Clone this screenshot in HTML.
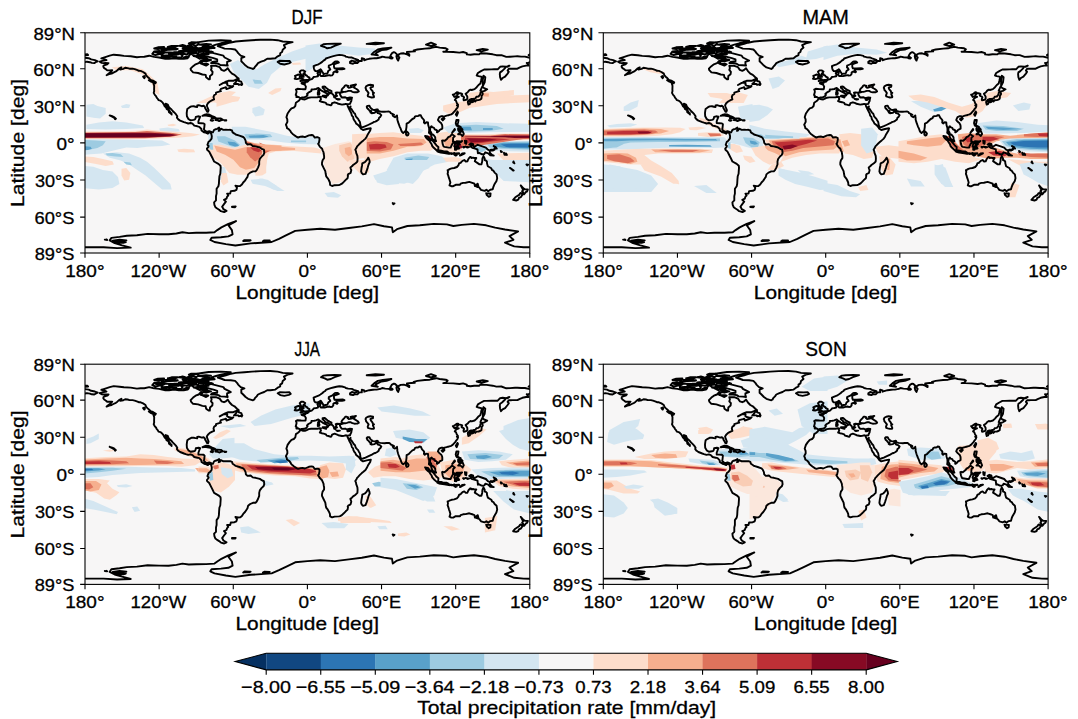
<!DOCTYPE html><html><head><meta charset="utf-8"><style>html,body{margin:0;padding:0;background:#fff;}svg{display:block}</style></head><body>
<svg width="1078" height="719" viewBox="0 0 1078 719" style='font-family:"Liberation Sans",sans-serif'>
<style>text{stroke:#000;stroke-width:0.3px;fill:#000}</style>
<defs>
<clipPath id="clip"><rect x="0" y="0" width="444.8" height="220.2"/></clipPath>
<path id="coast" d="M14.8,28.9 L17.3,28.1 L21.5,27.3 L19.2,26.2 L16.3,25.6 L21.0,24.1 L24.7,22.9 L28.7,21.9 L34.6,22.5 L38.9,23.1 L45.7,23.4 L51.9,24.4 L55.6,24.1 L59.3,24.0 L64.2,22.9 L69.2,24.1 L74.1,24.7 L80.3,26.0 L84.0,26.0 L89.0,25.4 L93.9,26.0 L98.8,26.0 L102.6,25.4 L105.0,21.6 L106.3,21.0 L108.7,22.9 L112.4,24.7 L114.9,26.0 L117.4,24.1 L121.1,24.1 L121.7,27.2 L119.8,28.2 L116.1,27.8 L113.7,30.3 L110.6,31.5 L108.1,33.4 L105.6,35.9 L106.0,37.4 L108.1,39.6 L113.1,40.2 L117.4,41.7 L120.7,42.1 L121.1,44.5 L123.6,46.4 L124.8,46.4 L125.0,43.3 L127.3,41.4 L127.6,39.0 L126.0,37.1 L126.6,35.3 L126.0,33.0 L131.0,33.0 L134.7,34.4 L136.5,37.1 L139.0,38.0 L140.9,37.1 L142.7,35.4 L144.6,38.3 L147.0,40.8 L149.5,42.1 L152.0,44.5 L153.6,45.8 L152.0,46.4 L148.3,48.0 L143.3,48.0 L140.2,49.2 L134.7,52.2 L138.4,50.1 L142.3,50.0 L142.1,52.0 L143.3,52.8 L147.0,53.7 L148.3,53.2 L147.0,54.4 L141.5,56.3 L140.9,54.4 L139.6,54.9 L135.9,56.0 L135.2,57.4 L135.9,58.4 L134.1,58.9 L131.0,59.9 L131.0,61.2 L129.1,62.5 L128.5,64.3 L129.1,66.6 L127.3,67.4 L124.8,68.7 L122.9,70.5 L121.8,72.4 L122.3,74.2 L123.6,77.3 L123.1,78.9 L122.1,78.9 L121.3,77.3 L120.2,75.5 L119.8,74.0 L118.6,73.0 L116.8,73.4 L113.7,72.4 L112.2,72.7 L112.2,74.2 L110.6,73.9 L108.7,73.5 L106.3,73.6 L104.4,74.6 L102.3,76.1 L101.9,78.6 L101.7,80.4 L101.9,83.5 L103.4,86.2 L105.6,87.6 L108.7,87.1 L110.0,86.6 L110.6,85.4 L110.8,84.1 L113.7,83.5 L115.2,83.9 L114.3,86.0 L113.4,88.5 L113.4,90.3 L116.1,90.4 L118.6,90.6 L119.6,91.5 L119.2,95.3 L118.9,96.5 L119.8,97.7 L121.7,99.0 L124.2,98.3 L126.8,99.3 L127.9,99.6 L129.1,97.1 L130.4,96.5 L132.2,96.1 L134.1,94.8 L134.4,96.5 L133.7,98.0 L134.7,97.7 L135.9,95.9 L138.4,97.1 L140.9,97.0 L143.3,97.1 L145.2,97.0 L147.0,97.7 L147.6,99.6 L149.5,100.8 L150.7,101.7 L154.4,102.8 L158.2,104.2 L159.4,105.4 L160.6,107.9 L160.9,110.1 L162.5,111.7 L165.6,111.3 L167.7,113.2 L170.5,113.6 L174.8,114.7 L177.3,116.3 L178.9,116.9 L179.3,120.0 L178.5,122.1 L176.7,123.7 L174.8,126.2 L174.2,128.7 L174.2,131.7 L173.0,134.8 L171.7,137.3 L170.5,138.6 L168.0,138.6 L165.2,139.8 L163.1,141.6 L162.5,144.1 L161.2,146.0 L160.0,147.8 L158.2,149.7 L156.9,151.8 L155.1,153.2 L153.2,153.3 L150.4,152.8 L152.0,155.0 L151.4,157.1 L149.5,158.0 L145.8,158.3 L145.2,160.8 L142.1,160.8 L143.3,162.7 L142.1,163.9 L141.5,165.8 L139.0,167.0 L140.9,168.9 L139.0,171.3 L137.1,173.9 L137.8,175.0 L138.4,176.3 L141.5,178.1 L139.2,179.3 L135.9,178.4 L134.1,176.9 L132.2,175.7 L130.4,174.4 L129.4,172.0 L129.1,169.5 L131.0,167.6 L131.0,163.3 L131.6,160.8 L131.6,155.9 L133.4,153.4 L133.9,150.9 L134.1,147.2 L134.4,143.5 L135.3,141.0 L135.4,139.3 L135.7,134.8 L135.5,133.0 L133.4,131.1 L129.1,128.7 L127.3,124.9 L125.4,121.2 L124.2,118.8 L122.1,116.9 L121.9,115.8 L123.2,114.3 L123.6,113.2 L122.4,112.0 L122.9,110.7 L123.6,108.9 L125.0,107.9 L126.6,105.8 L126.8,103.3 L126.3,101.2 L125.5,99.8 L123.9,99.7 L122.9,100.9 L121.3,100.1 L119.2,99.6 L116.5,97.7 L116.4,96.2 L114.3,94.0 L112.4,93.5 L109.3,92.8 L107.5,90.9 L105.6,90.2 L103.2,90.7 L100.7,89.9 L99.0,89.3 L95.1,87.8 L93.3,86.6 L91.9,84.9 L92.3,83.5 L90.9,81.4 L89.0,79.4 L87.7,78.2 L86.5,76.7 L85.3,75.6 L83.6,73.9 L82.8,71.8 L80.6,70.9 L81.3,73.0 L82.2,74.2 L83.4,76.1 L84.0,77.3 L85.6,80.0 L86.5,80.4 L86.6,81.8 L86.1,81.0 L84.0,79.5 L83.6,77.3 L81.5,76.1 L81.2,74.8 L79.7,73.4 L78.5,71.1 L77.7,69.9 L76.1,68.3 L75.4,67.9 L73.5,67.4 L72.9,66.2 L71.7,64.8 L71.0,63.3 L69.8,62.1 L68.7,60.1 L69.2,58.1 L69.1,56.9 L69.2,52.9 L68.3,50.2 L70.4,50.5 L70.9,49.5 L69.2,48.5 L68.0,47.8 L65.5,47.0 L64.2,45.5 L62.4,43.9 L61.2,42.7 L60.5,40.8 L58.1,39.2 L55.6,38.1 L53.7,38.0 L52.5,37.4 L49.7,36.4 L47.6,35.9 L44.5,35.9 L42.6,35.3 L40.2,35.0 L38.3,36.1 L35.2,36.7 L36.4,34.6 L34.0,35.9 L32.1,37.7 L30.9,38.6 L28.4,39.8 L26.6,40.8 L24.1,41.4 L21.6,42.4 L23.5,40.9 L25.9,39.0 L27.2,37.5 L24.7,37.6 L22.2,37.6 L21.0,36.5 L19.2,35.3 L18.3,34.0 L18.5,32.8 L19.8,32.2 L22.2,31.5 L23.5,30.3 L20.4,30.2 L18.5,30.3 L16.7,30.1 L14.8,28.9 M168.0,36.1 L163.1,34.6 L160.6,32.8 L158.2,30.3 L156.3,28.5 L156.3,25.4 L159.4,24.1 L155.7,22.9 L154.4,21.6 L153.2,20.4 L152.0,18.6 L150.1,16.7 L145.8,16.1 L139.6,15.8 L137.1,14.8 L132.8,13.4 L135.9,12.4 L140.9,11.1 L144.6,9.9 L150.7,8.7 L159.4,8.0 L166.8,7.4 L175.4,6.9 L185.3,6.8 L192.7,7.4 L197.7,8.7 L207.6,9.3 L202.6,10.5 L198.9,12.4 L200.2,14.8 L197.7,16.9 L197.1,19.2 L195.2,20.4 L195.2,22.3 L192.7,23.5 L190.3,25.4 L185.3,26.0 L182.2,26.0 L179.2,27.8 L176.1,28.9 L173.0,30.3 L171.7,32.2 L169.9,34.0 L169.3,35.3 L168.0,36.1 M149.0,51.2 L150.7,49.5 L152.0,47.6 L153.7,46.3 L153.8,48.2 L156.3,48.9 L156.9,50.7 L157.3,51.3 L156.7,52.3 L155.7,51.6 L153.8,52.1 L153.2,51.2 L149.0,51.2 M117.5,83.0 L119.8,81.9 L121.1,81.5 L123.6,81.6 L126.6,83.1 L129.1,84.1 L130.7,85.1 L129.1,85.5 L126.6,85.5 L127.0,84.5 L125.4,83.5 L122.3,83.1 L120.5,82.6 L117.5,83.0 M130.4,87.3 L132.2,85.6 L135.9,85.7 L137.9,87.1 L135.9,87.6 L134.2,88.3 L132.8,87.6 L130.4,87.3 M125.7,87.5 L128.1,87.6 L127.5,88.0 L126.0,87.7 L125.7,87.5 M139.4,87.3 L141.3,87.5 L141.1,87.8 L139.5,87.8 L139.4,87.3 M24.7,82.6 L27.2,83.4 L29.0,84.2 L30.9,85.9 L30.1,86.5 L29.4,85.2 L27.2,83.9 L24.7,82.6 M69.9,50.3 L68.0,49.6 L66.1,48.9 L63.8,47.3 L65.5,47.3 L67.6,47.9 L69.9,50.3 M59.3,43.3 L59.9,44.5 L59.3,45.4 L58.1,43.9 L59.3,43.3 M215.2,65.8 L214.4,67.4 L213.0,68.5 L210.9,69.9 L210.3,73.2 L208.8,74.8 L206.5,75.6 L204.5,77.9 L202.6,80.7 L202.0,82.6 L201.4,84.4 L202.3,86.6 L202.4,89.1 L200.9,91.9 L201.8,94.0 L202.0,95.3 L203.9,96.5 L205.5,98.3 L206.1,99.6 L207.6,101.1 L209.1,102.3 L211.9,104.2 L213.1,104.7 L215.6,103.9 L217.5,103.7 L219.9,104.3 L222.2,103.3 L223.9,102.6 L226.6,102.2 L228.0,102.4 L229.8,104.8 L231.7,104.5 L232.9,104.5 L234.4,105.2 L234.5,107.0 L234.1,108.9 L233.9,110.1 L233.1,111.0 L234.8,113.8 L236.0,115.0 L237.1,116.0 L237.6,117.5 L238.5,119.4 L238.7,121.0 L239.1,123.1 L239.1,125.3 L237.6,127.4 L237.0,129.9 L237.0,131.7 L238.5,134.8 L240.3,138.4 L240.7,141.0 L241.2,143.5 L242.8,145.5 L243.8,147.2 L244.9,149.7 L245.1,152.2 L247.1,153.2 L249.6,152.4 L254.0,152.2 L255.1,151.9 L256.9,150.9 L258.8,149.1 L260.7,147.1 L262.6,145.4 L263.0,142.9 L262.7,142.3 L263.2,141.4 L265.6,140.2 L266.3,137.3 L265.6,135.5 L265.4,134.6 L266.9,133.5 L268.1,132.2 L270.6,130.5 L272.4,128.7 L272.6,125.6 L272.4,123.1 L271.2,120.0 L271.0,118.5 L270.3,116.9 L271.5,115.0 L272.1,113.6 L273.1,112.6 L274.9,110.7 L276.8,108.9 L278.4,107.6 L280.5,105.8 L281.7,103.9 L282.9,101.4 L285.2,97.7 L285.8,95.5 L284.2,95.7 L281.7,96.2 L278.0,97.2 L276.1,96.0 L275.8,95.7 L275.2,94.6 L273.7,92.8 L271.8,91.2 L271.2,90.8 L270.1,88.5 L269.4,87.8 L268.4,85.9 L268.1,84.1 L266.9,82.9 L266.3,80.5 L265.6,79.2 L264.2,76.5 L262.7,73.2 L262.6,73.0 L262.3,71.4 L260.7,71.1 L259.3,71.5 L257.0,71.8 L253.3,71.0 L252.1,70.4 L249.6,69.5 L247.1,70.4 L246.5,72.0 L245.9,72.6 L243.4,71.8 L241.6,71.4 L240.9,70.1 L238.7,69.4 L236.6,69.0 L234.8,68.3 L236.0,66.4 L235.4,64.9 L236.0,64.2 L234.6,64.0 L232.3,64.5 L228.6,64.6 L226.1,64.6 L223.6,64.9 L221.7,65.9 L219.9,66.7 L218.1,66.6 L216.2,65.9 L215.2,65.8 M283.3,124.9 L284.4,127.4 L284.7,129.3 L283.6,131.7 L282.7,134.8 L281.7,137.9 L280.5,141.0 L278.0,141.6 L276.8,140.4 L276.1,138.6 L276.5,135.5 L277.1,132.4 L277.3,130.5 L279.9,129.3 L281.7,127.4 L283.3,124.9 M262.3,71.4 L265.0,71.1 L265.6,69.5 L266.3,68.2 L266.6,66.2 L267.0,64.8 L265.0,64.6 L261.9,65.3 L260.3,64.5 L257.0,64.7 L256.1,63.7 L255.4,62.5 L254.9,61.2 L255.3,60.1 L258.2,59.3 L257.0,59.0 L254.5,59.8 L252.1,59.6 L250.7,59.9 L251.4,61.2 L250.6,62.7 L252.1,63.1 L250.8,63.7 L250.2,64.9 L249.2,64.5 L249.0,63.5 L248.3,61.9 L247.1,60.9 L246.4,60.0 L246.5,58.4 L244.6,57.4 L242.7,56.3 L240.9,54.9 L240.3,54.1 L239.5,53.7 L237.6,53.9 L237.6,55.0 L239.1,56.2 L240.3,57.9 L242.2,58.3 L244.0,59.6 L245.3,60.4 L243.4,61.5 L242.9,62.6 L241.8,63.1 L242.4,61.2 L241.7,60.5 L239.9,59.6 L237.5,58.4 L235.4,56.9 L233.4,55.2 L231.0,56.2 L229.1,56.5 L226.5,56.7 L226.4,58.1 L225.1,58.9 L223.4,59.8 L222.0,61.2 L222.6,62.1 L221.5,63.6 L219.3,64.6 L216.8,64.7 L215.7,65.4 L214.6,64.9 L213.1,64.1 L211.4,64.3 L211.5,62.7 L210.7,62.2 L211.5,59.4 L211.5,58.1 L210.9,56.9 L212.5,56.0 L216.2,56.3 L218.7,56.4 L220.5,56.4 L220.9,53.8 L219.7,51.7 L216.8,50.8 L216.5,50.2 L218.7,49.7 L220.5,49.9 L220.4,48.6 L222.5,48.9 L224.4,47.1 L226.7,46.4 L228.0,45.2 L228.6,44.2 L231.0,43.8 L233.0,43.4 L233.0,41.4 L232.4,40.2 L233.5,39.6 L235.5,38.7 L235.4,40.2 L234.8,42.1 L236.0,43.3 L237.2,43.1 L239.7,43.3 L242.2,42.7 L244.6,42.3 L245.5,42.8 L247.1,42.6 L248.3,41.2 L248.3,39.8 L249.0,39.0 L250.2,38.7 L252.1,39.6 L252.7,39.0 L251.4,37.7 L251.4,36.9 L252.9,36.6 L257.0,36.5 L259.5,36.0 L257.6,35.3 L253.3,35.6 L249.6,35.6 L249.0,34.0 L249.0,31.5 L252.1,30.3 L253.9,29.7 L252.7,28.7 L250.8,28.7 L249.8,28.9 L248.7,29.9 L247.5,31.2 L245.3,32.2 L243.8,32.9 L243.7,34.6 L244.6,35.3 L245.3,36.7 L243.2,38.3 L242.8,39.6 L242.2,40.6 L240.3,40.8 L238.5,41.4 L238.1,40.2 L237.1,38.7 L236.2,37.1 L235.5,36.5 L234.8,37.1 L232.3,38.3 L230.4,38.2 L229.4,37.1 L228.9,35.4 L228.6,33.4 L231.0,32.4 L233.5,31.5 L235.4,30.3 L237.2,29.1 L238.5,27.8 L240.2,26.8 L240.9,25.7 L242.8,25.0 L245.8,24.0 L248.3,23.3 L251.4,22.6 L254.3,22.1 L257.0,22.3 L260.1,23.1 L260.7,23.8 L263.2,24.4 L266.9,24.7 L268.7,25.6 L273.1,27.0 L271.8,27.8 L269.4,28.5 L266.9,27.8 L265.0,29.1 L265.0,30.3 L268.1,30.9 L269.4,30.2 L272.4,30.2 L274.3,28.2 L276.8,28.2 L276.8,25.4 L279.2,26.2 L279.2,27.5 L281.7,26.6 L284.2,26.0 L287.9,25.6 L289.7,25.4 L291.6,25.4 L294.1,24.9 L295.9,24.5 L297.2,23.8 L300.2,24.4 L303.9,24.7 L305.2,25.5 L307.0,25.7 L307.7,25.1 L306.4,24.1 L305.2,23.5 L305.8,22.3 L307.0,20.4 L308.9,19.4 L310.1,19.8 L312.0,21.6 L311.4,23.5 L312.0,26.0 L313.2,27.8 L313.8,26.0 L314.4,24.7 L313.2,23.5 L313.8,21.6 L315.7,20.7 L318.8,20.5 L321.9,21.5 L324.3,22.9 L324.3,21.6 L321.9,20.4 L321.9,19.2 L326.2,18.8 L329.9,18.6 L328.7,17.6 L332.4,16.7 L339.8,15.8 L344.7,15.5 L347.2,14.8 L351.3,14.0 L354.6,14.8 L360.8,15.5 L362.6,16.5 L360.8,18.6 L358.3,18.9 L362.0,18.9 L368.2,19.2 L374.4,19.8 L378.1,19.2 L381.8,20.4 L381.8,21.6 L385.5,22.0 L389.2,21.5 L394.1,21.6 L395.4,20.4 L401.6,20.7 L407.7,21.5 L411.4,22.4 L416.4,22.3 L421.3,24.1 L425.0,23.9 L430.0,23.6 L432.4,23.5 L436.2,23.8 L439.9,23.8 L444.8,24.9 M0.0,24.9 L3.7,25.4 L6.2,26.6 L9.9,27.3 L12.7,28.5 L11.1,29.2 L9.3,30.3 L6.8,30.1 L4.9,29.4 L1.9,28.9 L0.0,29.4 M444.8,29.4 L442.9,30.3 L441.7,30.1 L442.9,31.5 L443.6,32.8 L441.1,32.8 L437.4,33.6 L434.9,34.6 L432.4,35.9 L427.5,35.9 L425.6,36.0 L423.8,36.0 L422.6,37.7 L423.8,39.0 L422.6,40.8 L420.1,43.9 L417.6,45.2 L416.0,47.0 L415.1,44.5 L414.8,41.4 L415.1,39.6 L417.0,38.3 L420.1,35.3 L420.1,34.0 L422.6,34.0 L424.4,32.8 L421.3,34.0 L417.6,33.6 L415.1,34.0 L412.7,36.5 L409.0,36.5 L406.5,36.6 L401.6,36.7 L399.1,36.7 L396.0,38.3 L392.9,40.2 L391.7,42.7 L393.5,43.3 L396.0,43.9 L397.2,44.5 L396.6,45.4 L396.0,48.2 L395.4,50.7 L393.5,52.2 L391.7,54.4 L389.6,56.3 L386.7,57.2 L385.5,56.8 L383.9,57.8 L382.7,59.4 L380.6,60.9 L382.3,63.6 L382.4,65.6 L381.8,66.7 L379.9,67.3 L378.7,67.5 L378.5,66.2 L379.1,64.6 L378.3,63.6 L377.1,63.3 L376.5,62.8 L377.2,61.2 L376.0,60.7 L373.8,60.2 L372.5,62.0 L371.9,60.9 L373.1,59.6 L371.9,59.5 L370.0,60.9 L368.8,61.6 L367.8,61.9 L368.8,63.1 L369.4,64.1 L371.3,63.3 L373.8,64.1 L371.9,64.9 L371.0,65.6 L369.8,67.2 L371.0,68.0 L371.9,70.5 L373.0,71.8 L371.9,72.6 L373.1,73.1 L372.5,74.8 L371.4,76.1 L370.2,77.9 L368.8,79.4 L367.6,80.7 L366.3,81.6 L364.4,82.1 L363.5,82.5 L362.6,82.6 L360.8,83.1 L359.5,83.5 L358.7,84.7 L358.3,85.0 L357.9,83.5 L356.5,83.4 L354.2,84.4 L353.4,86.0 L352.9,87.2 L354.0,88.5 L355.3,89.7 L356.1,90.3 L357.1,92.2 L357.3,93.4 L357.3,95.9 L355.8,96.6 L354.6,97.2 L354.0,98.3 L352.4,99.5 L351.9,99.5 L352.1,97.7 L351.4,97.2 L349.7,96.5 L349.0,95.0 L347.2,94.4 L346.6,93.4 L346.0,93.8 L345.3,95.3 L345.0,97.7 L346.2,99.6 L346.6,101.4 L347.8,101.7 L349.0,102.7 L350.2,104.5 L350.3,106.6 L351.1,108.4 L350.7,108.5 L348.7,107.4 L347.2,105.8 L346.4,103.4 L346.1,102.1 L345.6,101.4 L343.9,100.0 L344.2,97.7 L344.1,95.3 L343.2,92.2 L343.0,89.7 L341.3,89.4 L339.8,90.6 L338.9,89.7 L339.2,87.8 L338.5,86.6 L337.3,85.4 L336.7,84.5 L335.8,82.5 L334.2,82.3 L333.6,83.1 L332.4,83.3 L331.1,83.3 L329.9,83.9 L329.3,85.4 L327.4,86.2 L325.3,88.2 L323.7,89.9 L321.6,90.9 L321.5,94.0 L321.0,97.4 L320.0,98.7 L318.2,100.1 L316.9,99.0 L316.3,97.7 L315.7,95.9 L314.8,94.0 L314.1,92.2 L313.6,90.9 L313.0,89.1 L312.3,86.6 L312.3,84.7 L312.1,84.0 L312.0,82.6 L311.1,83.5 L310.0,84.4 L308.3,83.4 L307.7,82.4 L309.1,82.0 L307.3,81.0 L305.8,80.4 L305.2,79.4 L303.9,78.7 L301.5,78.8 L299.4,79.0 L297.8,78.9 L295.3,78.7 L293.2,78.2 L292.8,76.7 L291.8,76.6 L289.7,77.2 L287.9,76.9 L286.0,75.6 L285.2,74.5 L284.4,73.0 L282.3,73.1 L281.7,73.9 L282.3,75.5 L283.6,76.7 L284.4,77.7 L285.2,78.6 L286.2,78.1 L286.2,79.7 L285.4,79.7 L286.6,80.4 L289.6,79.9 L290.7,78.9 L292.0,77.7 L292.1,79.3 L292.8,80.4 L294.8,80.9 L296.3,82.3 L295.3,84.1 L294.1,84.9 L293.7,86.6 L292.2,87.8 L290.4,88.8 L289.1,89.1 L286.9,90.4 L283.1,92.2 L280.5,93.4 L278.0,94.3 L276.0,94.5 L275.5,92.8 L275.2,90.9 L274.9,89.1 L273.7,87.2 L273.1,86.0 L271.8,84.7 L270.8,83.5 L270.0,81.0 L268.7,79.8 L267.5,77.9 L266.3,76.1 L265.2,75.3 L265.6,73.6 L265.2,74.2 L264.9,75.2 L264.7,75.7 L263.8,74.8 L262.7,73.2 M258.2,59.1 L257.0,58.6 L256.5,57.5 L257.0,56.4 L257.9,55.3 L259.1,54.2 L259.7,53.2 L260.3,52.6 L261.3,52.5 L263.2,53.2 L262.6,53.9 L263.8,54.9 L265.0,54.7 L266.3,54.3 L267.5,54.1 L266.0,53.8 L265.6,52.8 L267.5,52.3 L269.4,52.0 L271.0,51.7 L269.6,52.9 L269.4,53.8 L268.5,54.2 L269.1,54.8 L270.6,55.7 L271.5,56.2 L273.1,57.4 L273.8,58.6 L272.4,59.4 L271.5,59.4 L269.4,59.5 L267.3,59.0 L265.8,58.1 L263.5,58.1 L261.9,58.6 L260.1,59.1 L258.2,59.1 M280.5,55.0 L281.1,53.6 L282.9,52.5 L285.4,52.0 L286.6,52.2 L288.1,52.5 L287.9,54.1 L285.8,54.4 L285.4,55.0 L286.0,56.5 L287.6,58.4 L287.8,59.6 L289.0,60.1 L287.9,61.2 L289.0,63.7 L288.9,64.5 L286.6,64.7 L284.5,64.1 L282.9,63.6 L282.7,62.5 L283.2,61.2 L283.6,60.2 L282.6,58.9 L282.3,58.4 L281.1,57.2 L281.0,56.3 L280.5,55.0 M215.4,48.2 L218.7,47.5 L224.1,46.8 L224.5,44.9 L222.6,43.9 L221.8,42.7 L220.9,42.6 L219.9,41.1 L218.4,40.8 L219.3,40.2 L220.2,38.8 L218.3,37.6 L216.2,37.6 L214.7,39.0 L215.5,40.8 L216.2,42.3 L218.4,42.2 L218.7,44.0 L216.7,44.2 L217.2,45.5 L215.9,46.1 L218.4,46.5 L215.4,48.2 M215.0,45.5 L214.7,44.2 L215.5,42.7 L213.4,41.7 L211.9,42.3 L210.0,43.1 L210.7,44.5 L209.7,46.0 L211.9,46.3 L215.0,45.5 M195.2,30.9 L192.7,29.1 L194.6,28.0 L200.2,28.2 L204.5,28.1 L205.7,29.7 L203.9,30.6 L199.3,31.7 L195.2,30.9 M236.0,13.0 L238.5,11.4 L242.2,11.1 L249.6,10.8 L255.8,10.9 L249.6,13.0 L245.9,14.8 L242.2,15.5 L239.7,14.2 L236.0,13.0 M286.6,21.6 L289.1,19.2 L292.8,16.7 L297.8,15.7 L306.4,14.8 L301.5,16.7 L296.5,17.3 L291.6,19.8 L290.4,21.0 L292.8,22.6 L286.6,21.6 M341.0,11.8 L346.0,9.9 L350.9,11.8 L346.0,13.2 L341.0,11.8 M391.7,17.3 L397.8,16.1 L402.8,16.9 L396.6,18.6 L391.7,17.3 M281.7,11.1 L290.4,9.9 L299.0,10.5 L290.4,11.4 L281.7,11.1 M0.0,21.6 L2.5,21.5 L3.1,22.3 L0.0,22.5 M444.8,22.5 L443.6,22.3 L444.8,21.6 M234.0,56.9 L234.3,58.1 L233.8,58.9 L233.0,58.3 L234.0,56.9 M234.1,59.3 L234.5,60.6 L234.1,61.7 L232.8,61.9 L232.8,59.8 L234.1,59.3 M237.7,63.0 L241.7,62.7 L241.1,64.7 L237.7,63.6 L237.7,63.0 M251.4,66.2 L254.9,66.4 L252.7,66.9 L251.4,66.2 M262.3,66.8 L265.2,65.9 L264.3,66.9 L262.8,67.2 L262.3,66.8 M397.2,53.9 L399.1,55.3 L402.2,56.5 L399.5,58.1 L396.6,58.8 L395.4,57.9 L396.0,56.5 L397.2,53.9 M397.2,59.0 L397.8,61.2 L396.6,63.1 L396.6,64.3 L396.4,65.9 L395.1,66.8 L393.5,67.3 L391.4,67.4 L390.2,68.7 L389.2,67.3 L386.1,68.0 L384.3,67.7 L384.3,67.0 L386.1,66.2 L388.0,66.1 L390.4,65.6 L391.4,64.0 L393.5,63.7 L395.1,61.9 L395.4,60.0 L397.2,59.0 M383.0,68.3 L385.2,68.7 L384.9,71.1 L383.4,71.8 L382.8,69.5 L383.0,68.3 M386.1,68.2 L388.7,67.8 L388.2,69.0 L386.7,69.5 L386.1,68.2 M397.8,53.2 L399.7,49.5 L400.3,44.5 L398.5,42.9 L397.8,47.0 L397.8,53.2 M372.5,78.8 L373.0,79.8 L371.7,83.0 L370.8,81.6 L372.5,78.8 M358.9,85.2 L359.5,85.9 L357.8,87.6 L356.6,86.3 L358.9,85.2 M371.4,87.2 L373.5,87.2 L373.1,89.7 L372.5,91.5 L373.1,92.8 L375.6,94.0 L375.0,94.6 L373.8,93.4 L371.9,93.0 L371.3,92.3 L370.7,90.3 L371.4,87.2 M375.0,99.6 L377.5,98.0 L378.8,101.1 L377.5,103.2 L375.6,101.4 L373.1,101.4 L375.0,99.6 M321.1,98.1 L322.9,99.6 L323.6,100.8 L323.1,102.3 L322.0,102.8 L321.2,102.1 L321.0,101.4 L321.1,98.1 M340.1,103.2 L342.9,103.7 L344.3,105.5 L346.3,107.3 L347.8,108.0 L350.5,111.3 L351.5,112.6 L353.4,114.1 L353.2,117.3 L351.5,117.4 L348.8,115.0 L347.2,113.2 L346.6,111.3 L345.3,109.5 L344.5,108.0 L342.9,106.8 L341.0,104.8 L340.1,103.2 M352.4,118.5 L353.4,117.4 L356.2,117.8 L358.9,118.6 L361.8,118.6 L363.7,119.7 L363.7,120.9 L359.5,120.2 L355.8,119.7 L354.0,119.3 L352.4,118.5 M357.1,107.9 L357.8,107.6 L359.5,108.1 L362.0,106.1 L363.3,104.4 L365.1,103.5 L367.0,101.4 L369.8,103.4 L368.2,104.8 L367.9,108.9 L369.4,109.0 L367.6,110.7 L366.3,113.2 L365.7,114.8 L363.9,114.8 L359.5,114.1 L358.6,113.7 L357.7,111.3 L357.1,107.9 M369.9,116.9 L370.0,114.4 L369.2,113.4 L370.4,110.1 L371.5,108.5 L376.2,108.6 L377.1,108.2 L375.6,109.6 L372.3,109.5 L370.9,110.1 L372.3,111.3 L374.7,111.2 L373.8,112.1 L372.4,112.5 L374.2,115.7 L372.5,116.0 L371.8,113.4 L371.0,113.8 L371.2,117.0 L369.9,116.9 M384.3,111.7 L386.1,110.6 L388.0,111.1 L388.6,113.2 L389.2,114.2 L392.7,112.0 L396.6,113.3 L400.9,114.8 L402.8,116.9 L404.6,117.6 L405.0,120.0 L407.1,122.1 L408.7,122.8 L405.3,122.6 L403.2,120.5 L400.3,119.5 L399.3,121.2 L398.1,121.5 L396.6,121.4 L394.1,120.1 L392.9,120.5 L392.5,116.5 L389.2,115.5 L387.3,115.0 L385.5,113.7 L387.1,112.9 L385.2,112.1 L384.3,111.7 M405.9,116.9 L408.4,116.9 L410.2,115.4 L409.6,116.9 L407.7,117.8 L406.5,117.8 L405.9,116.9 M408.7,113.3 L410.8,114.4 L411.7,115.8 L410.2,114.8 L408.7,113.3 M425.0,135.1 L428.7,137.7 L428.1,137.8 L425.0,135.1 M441.5,131.7 L443.1,131.9 L442.3,132.6 L441.5,131.7 M428.5,128.7 L429.4,130.5 L428.2,129.6 L428.5,128.7 M362.6,137.3 L363.4,137.1 L365.1,136.1 L366.6,135.6 L369.2,135.2 L371.9,134.2 L373.4,132.5 L374.2,130.4 L375.6,130.1 L376.2,129.3 L377.5,128.0 L379.3,127.2 L380.8,128.7 L382.4,128.5 L383.3,126.4 L384.0,125.4 L385.2,124.1 L386.2,124.5 L386.4,125.2 L388.0,124.8 L389.2,125.2 L391.3,125.2 L390.4,126.6 L389.8,128.4 L392.3,130.1 L394.5,131.6 L396.4,131.6 L397.2,128.7 L397.4,125.7 L398.5,123.3 L399.7,125.6 L399.7,127.4 L400.9,127.7 L401.9,128.7 L402.0,130.5 L402.8,133.4 L406.3,135.5 L407.1,137.3 L408.4,137.9 L409.6,139.8 L411.6,141.6 L412.2,145.4 L411.4,148.4 L410.2,150.3 L409.2,152.0 L408.4,154.0 L407.7,156.5 L405.3,156.9 L403.2,158.5 L401.4,157.0 L399.7,158.1 L397.8,157.6 L396.0,157.1 L394.8,155.4 L393.5,154.1 L393.2,152.8 L392.7,150.9 L392.3,152.2 L392.7,154.3 L391.1,153.6 L391.7,152.8 L392.3,151.2 L390.4,152.8 L389.9,153.3 L389.4,150.9 L388.0,150.3 L384.3,149.1 L380.6,149.9 L378.1,150.1 L375.6,150.9 L375.0,152.0 L370.7,152.0 L368.2,153.4 L366.3,153.4 L364.5,152.5 L365.4,149.7 L364.5,146.6 L364.0,145.4 L363.3,142.9 L362.6,141.0 L363.0,139.2 L362.6,137.3 M401.2,160.4 L405.6,160.7 L405.3,163.3 L403.8,164.0 L401.8,162.3 L401.2,160.4 M435.8,152.7 L438.4,155.6 L439.9,156.6 L442.9,156.7 L442.1,158.7 L441.0,159.1 L439.0,161.6 L438.1,161.2 L438.1,159.5 L437.1,158.6 L438.1,157.1 L435.8,152.7 M435.8,160.2 L437.6,161.7 L435.9,164.3 L433.9,165.1 L433.4,166.8 L431.2,167.7 L428.1,167.0 L430.3,164.5 L434.1,162.1 L435.0,160.6 L435.8,160.2 M147.0,173.8 L150.7,173.7 L150.1,174.4 L147.0,174.3 L147.0,173.8 M307.7,170.3 L309.5,170.7 L308.3,171.5 L307.7,170.3 M116.1,30.9 L121.7,30.9 L123.3,31.5 L121.1,32.8 L118.0,31.5 L115.5,30.3 L117.4,28.5 L116.1,30.9 M101.3,17.3 L98.8,16.7 L97.6,15.5 L100.1,15.5 L101.3,17.3 M111.2,20.0 L105.0,20.4 L105.0,18.6 L111.2,18.6 L111.2,20.0 M97.6,21.0 L102.6,21.6 L103.8,19.2 L101.3,18.6 L97.6,19.4 L97.6,21.0 M79.1,17.7 L84.0,16.7 L91.4,16.7 L92.7,16.1 L86.5,15.5 L79.1,15.7 L76.6,16.7 L79.1,17.7 M67.3,21.0 L69.2,18.6 L74.1,18.1 L79.1,19.2 L76.6,20.8 L70.4,22.3 L67.3,21.0 M76.6,21.6 L80.3,19.4 L89.0,19.8 L93.9,20.0 L97.6,22.9 L96.4,24.7 L91.4,24.7 L86.5,25.4 L82.8,25.4 L77.8,24.7 L76.6,23.5 L76.6,21.6 M111.2,13.0 L107.5,11.8 L103.8,10.5 L106.3,9.5 L112.4,9.6 L113.7,11.1 L111.2,13.0 M123.6,17.9 L113.7,17.9 L108.7,17.6 L108.7,16.1 L116.1,15.5 L123.6,16.1 L123.6,17.9 M129.7,15.1 L123.6,15.7 L113.7,15.5 L111.2,14.8 L107.5,14.2 L105.0,12.4 L108.7,10.5 L113.7,9.3 L123.6,7.8 L135.9,7.4 L145.8,8.0 L142.1,9.3 L135.9,10.5 L131.0,11.8 L127.3,13.0 L128.5,14.2 L129.7,15.1 M123.6,19.1 L128.5,20.4 L133.4,21.6 L138.4,22.9 L139.6,24.7 L144.6,27.2 L145.8,27.8 L142.1,29.1 L142.1,30.9 L142.7,32.8 L139.6,32.4 L135.3,32.2 L133.4,30.9 L129.7,30.3 L126.0,30.3 L127.3,29.1 L132.2,28.5 L132.2,26.6 L128.5,25.4 L123.6,24.1 L119.8,23.5 L116.1,22.9 L112.4,21.6 L113.7,19.2 L117.4,18.9 L123.6,19.1 M373.1,95.5 L374.4,97.1 L373.8,98.3 L373.1,97.1 L373.1,95.5 M375.6,94.6 L377.5,96.5 L376.8,97.7 L376.0,96.5 L375.6,94.6 M367.2,99.8 L370.0,97.1 L369.7,96.2 L367.2,99.8 M374.7,96.5 L375.6,97.7 L375.0,98.3 L374.7,96.5 M363.9,120.1 L365.4,120.5 L364.7,121.0 L363.9,120.1 M365.7,120.5 L366.6,120.4 L366.2,121.1 L365.7,120.5 M366.7,121.1 L369.4,120.2 L369.3,121.0 L366.7,121.1 M370.4,120.7 L374.1,120.4 L374.2,120.9 L370.7,121.1 L370.4,120.7 M375.0,122.8 L377.2,120.7 L379.7,120.5 L376.2,122.3 L375.0,122.8 M369.4,121.9 L371.7,122.3 L370.7,122.8 L369.4,121.9 M379.9,107.9 L380.6,109.5 L381.5,108.2 L381.2,111.1 L380.2,110.5 L379.9,107.9 M380.6,113.8 L384.0,114.4 L382.4,114.8 L380.6,113.8 M378.1,114.1 L379.6,114.2 L378.7,114.8 L378.1,114.1 M415.8,118.1 L417.0,119.1 L416.1,119.3 L415.8,118.1 M418.9,120.0 L421.1,122.0 L419.5,121.9 L418.9,120.0 M421.1,120.6 L421.9,122.2 L421.3,121.9 L421.1,120.6 M0.0,214.4 L18.5,214.4 L32.1,215.3 L45.7,214.8 L37.1,212.5 L29.7,210.3 L24.7,207.6 L26.4,205.1 L34.6,204.1 L41.8,202.9 L51.9,202.4 L62.6,201.1 L74.1,201.4 L83.5,201.5 L91.4,200.7 L97.4,199.4 L103.8,200.3 L111.2,200.0 L121.1,199.9 L129.5,199.4 L132.3,197.3 L136.4,194.6 L143.4,191.1 L151.0,188.3 L143.4,192.5 L146.9,197.3 L147.6,201.5 L143.4,203.6 L135.9,204.4 L126.6,205.0 L125.3,207.1 L129.5,209.2 L140.9,211.3 L150.4,212.7 L165.7,210.6 L186.6,209.2 L194.0,206.0 L200.4,202.9 L210.2,198.1 L222.4,196.9 L235.2,196.0 L250.0,196.9 L263.9,195.2 L276.8,193.6 L289.0,191.3 L299.0,193.4 L307.0,194.6 L307.8,199.4 L312.0,196.4 L322.4,193.2 L334.8,192.4 L348.8,191.1 L361.9,191.6 L368.3,193.2 L376.8,192.1 L389.0,191.1 L401.2,192.5 L410.2,194.8 L420.0,196.7 L433.1,198.6 L424.5,203.3 L428.4,207.0 L420.0,209.9 L429.2,213.6 L438.6,214.4 L444.8,214.5 M158.2,208.2 L164.3,208.1 L165.6,207.5 L159.4,207.3 L158.2,208.2 M177.9,208.4 L184.1,208.3 L184.7,207.7 L179.2,207.6 L177.9,208.4 M27.8,207.8 L35.8,208.2 L41.4,207.6 L34.6,206.8 L27.8,207.8 M29.7,209.7 L38.3,210.1 L40.8,209.3 L33.4,209.1 L29.7,209.7 M19.8,206.8 L22.2,207.2 L21.6,206.6 M69.2,15.7 L72.9,14.5 L79.1,14.2 L77.8,15.5 L72.9,16.2 L69.2,15.7 M82.8,14.1 L86.5,13.1 L92.7,13.1 L90.2,14.1 L82.8,14.1 M93.9,13.1 L97.6,12.2 L100.1,12.9 L97.6,13.6 L93.9,13.1 M101.3,13.6 L103.8,12.5 L105.6,13.1 L103.2,14.1 L101.3,13.6 M102.6,17.4 L105.0,16.5 L107.5,16.9 L105.6,17.8 L102.6,17.4 M98.8,24.9 L101.3,23.6 L103.8,24.1 L102.6,25.4 L98.8,24.9 M121.1,19.7 L126.0,18.7 L127.9,19.4 L124.8,20.0 L121.1,19.7 M70.4,19.5 L75.4,19.1 L77.8,19.5 L72.9,20.0 L70.4,19.5 M84.0,21.0 L91.4,20.7 L93.9,21.5 L86.5,21.8 L84.0,21.0 M81.5,16.3 L89.0,16.0 L91.4,16.5 L84.0,16.9 L81.5,16.3 M111.2,16.6 L118.6,16.2 L121.1,16.8 L113.7,17.2 L111.2,16.6 M93.9,18.3 L98.8,17.7 L101.3,18.2 L96.4,18.7 L93.9,18.3 M113.7,11.8 L121.1,11.1 L126.0,11.6 L118.6,12.2 L113.7,11.8 M76.6,22.9 L86.5,22.5 L91.4,23.1 L84.0,23.6 L76.6,22.9 M108.7,23.3 L113.7,22.8 L116.1,23.4 L111.2,23.8 L108.7,23.3 M116.1,25.6 L121.1,25.2 L122.3,25.9 L118.6,26.2 L116.1,25.6 M102.6,15.5 L108.7,14.8 L112.4,15.3 L106.3,16.0 L102.6,15.5 M103.8,20.4 L108.7,19.8 L111.2,20.4 L106.3,21.0 L103.8,20.4 M113.7,21.6 L118.6,21.0 L123.6,21.6 L117.4,22.3 L113.7,21.6 M117.4,14.2 L123.6,13.6 L127.3,14.2 L121.1,14.6 L117.4,14.2 M98.8,14.8 L102.6,14.4 L105.0,14.8 L101.3,15.3 L98.8,14.8 M89.0,19.5 L95.1,19.2 L97.6,19.7 L91.4,20.0 L89.0,19.5 M118.6,27.8 L123.6,26.6 L126.0,27.2 L121.1,28.5 L118.6,27.8" fill="none" stroke="#000" stroke-width="1.9" stroke-linejoin="round" stroke-linecap="round"/>
</defs>
<g transform="translate(85.0,32.8)">
<g clip-path="url(#clip)">
<rect x="0" y="0" width="444.8" height="220.2" fill="#f7f6f6"/>
<path d="M1.4,71.9 L8.3,71.2 L12.4,73.3 L20.7,75.3 L20.7,80.9 L15.1,85.7 L8.3,85.0 L1.4,83.6Z" fill="#d4e6f1"/>
<path d="M35.8,73.3 L41.3,71.2 L45.4,71.9 L44.1,75.3 L37.2,75.3Z" fill="#d4e6f1"/>
<path d="M1.4,91.9 L13.8,89.8 L27.5,88.4 L41.3,89.8 L57.8,92.6 L59.2,95.3 L41.3,96.3 L20.7,96.7 L1.4,96.3Z" fill="#d4e6f1"/>
<path d="M74.3,95.7 L82.6,94.6 L93.6,96.3 L95.0,98.8 L82.6,99.4 L75.0,98.5Z" fill="#d4e6f1"/>
<path d="M82.6,91.9 L88.1,91.0 L91.6,92.1 L88.1,93.5 L83.3,93.2Z" fill="#fdddcb"/>
<path d="M-1.5,106.5 L41.3,106.7 L77.1,107.7 L85.4,111.8 L77.1,113.2 L62.0,113.9 L52.3,115.3 L41.3,114.6 L27.5,118.0 L16.5,120.8 L5.5,121.5 L-1.5,122.2Z" fill="#d4e6f1"/>
<path d="M-1.5,107.0 L11.0,107.7 L20.7,108.4 L17.9,112.5 L12.4,115.3 L5.5,116.7 L-1.5,118.0Z" fill="#9dcbe1"/>
<path d="M-1.5,113.2 L5.5,113.9 L6.9,116.0 L2.8,117.3 L-1.5,117.3Z" fill="#59a1ca"/>
<path d="M17.9,120.8 L31.7,119.4 L44.1,120.8 L55.1,124.9 L62.0,129.0 L68.8,134.6 L77.1,142.8 L85.4,151.1 L86.7,156.6 L77.1,156.6 L68.8,149.7 L60.6,142.8 L52.3,137.3 L44.1,131.8 L35.8,127.7 L24.8,124.9Z" fill="#d4e6f1"/>
<path d="M20.7,120.8 L27.5,120.1 L35.8,121.5 L38.5,124.2 L30.3,123.8 L22.0,122.8Z" fill="#9dcbe1"/>
<path d="M38.5,129.0 L45.4,129.7 L46.8,132.5 L41.3,131.8Z" fill="#9dcbe1"/>
<path d="M-1.5,123.5 L8.3,124.2 L17.9,126.3 L27.5,128.4 L28.9,131.8 L20.7,133.2 L11.0,131.1 L-1.5,129.0Z" fill="#fdddcb"/>
<path d="M36.5,135.9 L41.3,135.2 L45.4,140.1 L44.1,146.9 L39.2,147.6 L36.5,142.8Z" fill="#fdddcb"/>
<path d="M-1.5,133.2 L8.3,133.9 L17.9,137.3 L27.5,138.7 L33.0,144.2 L34.4,151.1 L27.5,155.2 L13.8,156.6 L-1.5,155.2Z" fill="#d4e6f1"/>
<path d="M92.2,116.7 L99.1,116.0 L108.8,116.7 L110.1,119.4 L101.9,119.8 L93.6,119.1Z" fill="#fdddcb"/>
<path d="M0.0,98.7 L40.0,98.4 L55.0,97.6 L62.0,96.8 L72.0,97.6 L90.0,99.0 L105.0,100.3 L115.0,101.6 L108.0,103.4 L95.0,104.8 L70.0,106.0 L40.0,106.4 L0.0,106.3Z" fill="#fdddcb"/>
<path d="M0.0,99.6 L50.0,99.2 L62.0,98.2 L72.0,99.0 L88.0,100.2 L97.0,101.8 L88.0,103.8 L60.0,105.4 L0.0,105.5Z" fill="#de735c"/>
<path d="M0.0,100.3 L50.0,100.0 L65.0,99.9 L85.0,101.0 L93.0,102.1 L85.0,103.6 L60.0,104.7 L0.0,104.9Z" fill="#870a24"/>
<path d="M0.0,100.9 L55.0,100.6 L80.0,101.4 L90.0,102.2 L80.0,103.2 L55.0,104.1 L0.0,104.3Z" fill="#67001f"/>
<path d="M146.8,93.9 L160.5,93.9 L174.3,96.7 L188.1,99.4 L201.8,102.9 L215.6,104.9 L229.4,104.3 L234.9,105.6 L235.6,111.8 L215.6,111.1 L199.1,109.8 L185.3,107.7 L174.3,107.0 L160.5,107.0 L150.9,104.3 L146.8,100.1Z" fill="#d4e6f1"/>
<path d="M159.2,101.5 L171.5,100.8 L185.3,101.5 L187.4,104.3 L174.3,105.6 L161.9,105.6Z" fill="#9dcbe1"/>
<path d="M206.0,107.7 L221.1,107.7 L221.1,109.5 L206.0,109.5Z" fill="#9dcbe1"/>
<path d="M163.3,102.9 L178.4,102.2 L183.9,103.6 L178.4,104.9 L164.7,104.9Z" fill="#59a1ca"/>
<path d="M174.3,111.1 L188.1,111.8 L201.8,113.2 L215.6,113.9 L229.4,114.6 L236.3,116.7 L236.3,120.8 L222.5,119.4 L207.3,118.0 L190.8,118.7 L183.9,120.8 L182.6,124.9 L181.2,131.8 L181.2,140.1 L177.1,142.8 L171.5,142.8 L168.8,137.3Z" fill="#fdddcb"/>
<path d="M178.4,113.2 L195.0,113.9 L210.1,115.3 L210.1,117.3 L195.0,118.0 L182.6,118.7 L179.8,120.8Z" fill="#f6af8e"/>
<path d="M174.3,109.8 L182.6,113.2 L190.8,114.6 L185.3,118.0 L179.8,120.8 L177.1,118.0Z" fill="#de735c"/>
<path d="M237.6,115.3 L250.0,111.1 L263.8,108.4 L270.7,111.1 L270.7,129.0 L267.9,137.3 L262.4,145.6 L254.2,149.7 L247.3,151.1 L243.1,142.8 L239.0,131.8 L237.6,123.5Z" fill="#fbe7dc"/>
<path d="M254.2,112.5 L265.2,109.8 L269.3,115.3 L269.3,126.3 L262.4,129.0 L256.9,123.5 L254.2,118.0Z" fill="#f9cdb5"/>
<path d="M259.7,115.3 L265.2,113.9 L267.9,120.8 L263.8,123.5 L260.3,120.8Z" fill="#f6af8e"/>
<path d="M131.5,63.0 L146.8,63.0 L155.0,64.3 L153.7,67.1 L141.3,71.2 L131.5,74.0Z" fill="#fdddcb"/>
<path d="M167.4,75.3 L174.3,73.3 L179.8,76.7 L178.4,82.2 L170.2,83.6 L167.4,79.5Z" fill="#d4e6f1"/>
<path d="M174.3,145.6 L182.6,146.9 L190.8,152.5 L193.6,156.6 L188.1,156.6 L179.8,151.1Z" fill="#d4e6f1"/>
<path d="M279.5,101.5 L294.8,100.1 L308.5,99.4 L322.3,101.5 L336.1,102.9 L341.6,105.6 L345.7,109.8 L349.8,115.3 L345.7,118.0 L336.1,118.0 L322.3,119.4 L308.5,123.5 L294.8,126.3 L285.1,129.0 L279.5,127.7Z" fill="#fdddcb"/>
<path d="M279.5,105.6 L294.8,104.3 L308.5,104.3 L322.3,105.6 L338.8,106.3 L341.6,109.8 L336.1,113.2 L322.3,113.9 L308.5,118.0 L294.8,120.8 L279.5,120.8Z" fill="#f6af8e"/>
<path d="M279.5,109.8 L289.3,108.4 L301.7,109.1 L308.5,111.8 L305.8,116.7 L294.8,118.7 L279.5,118.0Z" fill="#de735c"/>
<path d="M312.7,111.1 L325.1,110.5 L336.1,109.8 L338.8,111.8 L329.2,113.2 L315.4,113.2Z" fill="#de735c"/>
<path d="M283.8,111.8 L292.0,110.9 L300.3,111.8 L301.7,114.6 L294.8,116.7 L285.1,116.7Z" fill="#be3036"/>
<path d="M340.2,103.2 L345.7,102.9 L348.5,107.0 L345.7,108.4 L341.6,106.3Z" fill="#be3036"/>
<path d="M352.6,100.1 L363.6,98.8 L377.4,99.4 L377.4,118.0 L363.6,120.8 L352.6,119.4 L347.1,115.3Z" fill="#fdddcb"/>
<path d="M358.1,107.0 L366.4,102.9 L369.1,105.6 L366.4,112.5 L360.9,113.9Z" fill="#f6af8e"/>
<path d="M369.1,108.4 L377.4,107.7 L377.4,115.3 L370.5,116.7Z" fill="#870a24"/>
<path d="M358.1,94.6 L370.5,90.5 L391.1,89.1 L418.7,90.5 L460.0,91.2 L460.0,98.8 L404.9,99.4 L384.3,100.1 L363.6,100.1Z" fill="#d4e6f1"/>
<path d="M374.6,92.6 L391.1,91.9 L411.8,93.2 L418.7,96.0 L404.9,98.1 L384.3,98.8 L374.6,97.4Z" fill="#9dcbe1"/>
<path d="M376.0,93.9 L385.6,93.9 L387.0,97.4 L377.4,97.4Z" fill="#59a1ca"/>
<path d="M398.0,95.3 L407.7,95.3 L407.7,97.1 L398.0,97.1Z" fill="#59a1ca"/>
<path d="M398.0,112.5 L411.8,109.1 L460.0,107.7 L460.0,119.4 L411.8,118.0 L400.8,116.7Z" fill="#d4e6f1"/>
<path d="M402.2,111.8 L418.7,109.1 L460.0,108.4 L460.0,117.3 L415.9,116.0 L404.9,114.6Z" fill="#9dcbe1"/>
<path d="M407.7,111.8 L418.7,110.0 L460.0,109.8 L460.0,116.0 L418.7,115.0 L410.4,113.9Z" fill="#59a1ca"/>
<path d="M415.9,111.8 L425.6,110.9 L460.0,111.1 L460.0,115.0 L421.4,114.3Z" fill="#2c75b4"/>
<path d="M308.5,124.9 L322.3,120.8 L343.0,120.8 L356.7,123.5 L363.6,129.0 L349.8,131.8 L338.8,137.3 L333.3,145.6 L327.8,151.1 L316.8,148.3 L308.5,141.4 L301.7,137.3Z" fill="#d4e6f1"/>
<path d="M319.5,124.9 L333.3,122.8 L344.3,124.2 L341.6,127.7 L329.2,129.0 L320.9,131.8Z" fill="#9dcbe1"/>
<path d="M320.9,126.3 L327.8,125.6 L326.4,129.0 L322.3,130.4Z" fill="#59a1ca"/>
<path d="M289.3,142.8 L301.7,141.4 L312.7,145.6 L314.0,151.1 L301.7,152.5 L292.0,149.7Z" fill="#d4e6f1"/>
<path d="M389.8,113.9 L399.4,113.2 L402.2,116.7 L396.6,119.4 L391.1,118.0Z" fill="#9dcbe1"/>
<path d="M358.1,72.6 L370.5,69.8 L384.3,67.8 L398.0,65.7 L411.8,63.0 L460.0,61.6 L460.0,68.5 L411.8,71.2 L398.0,73.3 L384.3,75.3 L374.6,79.5 L363.6,80.9 L358.1,78.1Z" fill="#fdddcb"/>
<path d="M358.1,124.9 L370.5,124.2 L377.4,126.3 L374.6,129.0 L360.9,129.0Z" fill="#fdddcb"/>
<path d="M411.8,120.8 L460.0,119.4 L460.0,129.0 L418.7,127.7Z" fill="#fdddcb"/>
<path d="M402.2,126.3 L418.7,129.0 L460.0,131.8 L460.0,149.7 L418.7,148.3 L410.4,140.1 L404.9,133.2Z" fill="#d4e6f1"/>
<path d="M323.7,96.0 L333.3,95.3 L338.8,97.4 L336.1,100.1 L325.1,100.1Z" fill="#d4e6f1"/>
<path d="M144.8,31.3 L153.1,27.1 L161.4,35.4 L171.7,36.4 L180.0,31.3 L192.4,25.1 L206.9,18.8 L224.5,12.6 L224.5,25.1 L206.9,29.2 L196.5,33.3 L186.2,41.6 L182.0,49.9 L173.8,56.1 L163.4,54.0 L157.2,47.8 L148.9,39.5Z" fill="#d4e6f1"/>
<path d="M167.6,46.8 L175.8,47.4 L177.9,50.9 L169.6,50.9Z" fill="#9dcbe1"/>
<path d="M206.9,30.2 L215.1,29.8 L216.2,31.7 L207.9,32.3Z" fill="#fdddcb"/>
<path d="M183.1,60.3 L190.3,55.7 L196.5,55.1 L195.5,58.2 L187.2,62.3Z" fill="#fdddcb"/>
<path d="M26.9,34.4 L41.4,33.3 L57.9,36.4 L66.2,43.7 L72.4,49.9 L74.5,62.3 L70.3,60.3 L66.2,49.9 L57.9,41.6 L45.5,37.5 L31.0,37.5Z" fill="#fdddcb"/>
<path d="M111.7,70.2 L124.1,64.4 L134.5,60.3 L144.8,58.2 L151.0,59.2 L144.8,64.4 L134.5,68.5 L124.1,70.2Z" fill="#fdddcb"/>
<path d="M128.3,70.2 L144.8,65.4 L155.1,64.4 L153.1,68.5 L140.7,70.2Z" fill="#fdddcb"/>
<path d="M220.5,12.6 L234.4,10.6 L253.0,12.6 L273.7,14.7 L290.3,15.7 L288.2,20.9 L273.7,23.0 L259.2,20.9 L246.8,23.0 L234.4,29.2 L228.2,35.4 L220.5,39.5Z" fill="#d4e6f1"/>
<path d="M383.4,60.3 L397.8,58.2 L408.2,59.2 L418.5,58.2 L428.9,57.2 L428.9,62.3 L418.5,64.4 L404.0,66.5 L393.7,70.2 L383.4,70.2Z" fill="#fdddcb"/>
<path d="M397.4,60.3 L404.0,60.7 L403.6,64.0 L397.8,63.4Z" fill="#f6af8e"/>
<path d="M165.5,146.9 L177.9,145.8 L190.3,152.1 L199.6,158.3 L192.4,158.3 L180.0,153.1 L167.6,151.0Z" fill="#d4e6f1"/>
<path d="M288.2,142.7 L300.6,138.6 L311.0,131.3 L311.0,127.2 L348.2,127.2 L344.1,135.5 L333.7,139.6 L327.5,147.9 L319.2,151.0 L308.9,150.0 L298.5,147.9 L290.3,146.9Z" fill="#d4e6f1"/>
<path d="M239.6,160.3 L248.9,159.3 L256.1,162.4 L253.0,164.9 L242.7,164.1Z" fill="#d4e6f1"/>
<path d="M404.0,127.2 L446.5,127.2 L446.5,150.0 L428.9,147.9 L418.5,145.8 L412.3,139.6 L408.2,133.4Z" fill="#d4e6f1"/>
<path d="M263.4,127.2 L284.1,127.2 L284.1,139.6 L275.8,141.7 L269.6,135.5Z" fill="#fdddcb"/>
<path d="M123.3,98.5 L131.7,96.9 L144.2,97.7 L152.5,101.9 L159.2,106.0 L161.7,110.2 L158.4,115.2 L150.0,117.7 L140.0,116.1 L131.7,114.4 L125.8,111.9 L123.3,107.7Z" fill="#d4e6f1"/>
<path d="M131.7,103.5 L140.0,103.5 L150.0,107.7 L155.0,111.9 L152.5,114.4 L146.7,113.6 L140.0,111.1 L133.4,108.6Z" fill="#9dcbe1"/>
<path d="M142.5,108.6 L150.0,109.4 L154.2,112.7 L150.0,113.6 L144.2,111.9Z" fill="#59a1ca"/>
<path d="M123.3,111.9 L135.9,111.9 L148.4,115.2 L160.0,111.9 L165.1,111.9 L173.4,114.4 L179.2,116.9 L178.4,122.7 L175.1,128.6 L173.4,135.3 L169.2,138.6 L160.9,141.9 L152.5,141.9 L144.2,140.3 L140.0,135.3 L135.9,130.2 L127.5,124.4 L123.3,120.2Z" fill="#fdddcb"/>
<path d="M129.2,112.7 L140.0,115.2 L150.0,116.9 L160.0,114.4 L169.2,114.4 L176.7,117.7 L176.7,122.7 L173.4,130.2 L169.2,135.3 L160.9,136.9 L155.0,134.4 L148.4,126.9 L140.0,121.9 L131.7,118.6Z" fill="#f6af8e"/>
<path d="M161.7,114.4 L171.7,114.8 L177.6,118.6 L175.1,125.2 L170.1,128.6 L165.1,124.4 L161.7,119.4Z" fill="#de735c"/>
<path d="M156.7,122.7 L165.1,125.2 L169.2,131.1 L166.7,134.4 L160.0,132.8 L155.9,128.6Z" fill="#f6af8e"/>
<path d="M165.1,114.4 L173.4,115.2 L176.7,117.7 L173.4,119.4 L168.4,117.7Z" fill="#be3036"/>
<path d="M123.3,110.2 L127.5,110.2 L128.3,116.9 L125.8,116.9 L123.3,114.4Z" fill="#9dcbe1"/>
<path d="M135.0,133.6 L140.0,134.4 L141.7,141.9 L138.4,148.6 L135.0,146.9Z" fill="#d4e6f1"/>
<path d="M136.7,140.3 L141.7,140.3 L143.4,149.4 L138.4,152.8 L135.9,148.6Z" fill="#fdddcb"/>
<path d="M175.1,122.7 L181.7,121.9 L181.7,130.2 L180.1,139.4 L175.1,142.8 L170.1,142.8 L173.4,135.3Z" fill="#fdddcb"/>
<path d="M160.0,107.7 L169.2,110.2 L181.7,111.9 L196.5,112.7 L196.5,117.7 L181.7,117.7 L176.7,116.9 L166.7,112.7 L160.9,111.1Z" fill="#f6af8e"/>
<path d="M161.7,108.6 L169.2,111.1 L178.4,114.0 L173.4,114.4 L165.1,112.7 L161.3,110.6Z" fill="#de735c"/>
<path d="M372.0,101.5 L400.0,101.5 L420.0,100.6 L460.0,100.8 L460.0,106.8 L420.0,107.8 L405.0,110.5 L385.0,112.0 L372.0,111.0Z" fill="#fdddcb"/>
<path d="M376.0,102.5 L405.0,102.6 L420.0,101.3 L460.0,101.5 L460.0,105.8 L420.0,106.8 L405.0,109.5 L385.0,110.8 L376.0,110.0Z" fill="#de735c"/>
<path d="M380.0,103.6 L405.0,103.5 L420.0,102.6 L460.0,102.8 L460.0,104.8 L420.0,105.9 L405.0,107.2 L385.0,108.3Z" fill="#870a24"/>
<path d="M395.0,104.6 L420.0,103.4 L460.0,103.3 L460.0,104.3 L420.0,104.9 L400.0,106.0Z" fill="#67001f"/>
<path d="M376.0,104.0 L420.0,104.5 L440.0,106.0 L420.0,109.0 L400.0,112.0 L385.0,114.0 L376.0,113.0Z" fill="#de735c"/>
<path d="M380.0,105.0 L410.0,105.5 L425.0,106.5 L405.0,109.0 L390.0,111.0 L380.0,110.0Z" fill="#be3036"/>
<path d="M382.0,105.5 L405.0,106.0 L412.0,107.0 L398.0,109.0 L386.0,109.5Z" fill="#870a24"/>
<path d="M267.1,101.5 L281.7,100.8 L281.7,124.9 L271.2,126.3 L267.1,120.8Z" fill="#fdddcb"/>
<use href="#coast"/>
</g>
<rect x="0" y="0" width="444.8" height="220.2" fill="none" stroke="#000" stroke-width="1.1"/>
<path d="M0.00,220.20 v4.86 M74.13,220.20 v4.86 M148.27,220.20 v4.86 M222.40,220.20 v4.86 M296.53,220.20 v4.86 M370.67,220.20 v4.86 M444.80,220.20 v4.86 M0,0.00 h-4.86 M0,35.88 h-4.86 M0,72.99 h-4.86 M0,110.10 h-4.86 M0,147.21 h-4.86 M0,184.32 h-4.86 M0,220.20 h-4.86" stroke="#000" stroke-width="1.1" fill="none"/>
<text x="-19.82" y="243.90" font-size="17.17" textLength="39.35" lengthAdjust="spacingAndGlyphs">180°</text>
<text x="45.58" y="243.90" font-size="17.17" textLength="55.76" lengthAdjust="spacingAndGlyphs">120°W</text>
<text x="125.17" y="243.90" font-size="17.17" textLength="45.32" lengthAdjust="spacingAndGlyphs">60°W</text>
<text x="213.52" y="243.90" font-size="17.17" textLength="18.15" lengthAdjust="spacingAndGlyphs">0°</text>
<text x="276.70" y="243.90" font-size="17.17" textLength="39.53" lengthAdjust="spacingAndGlyphs">60°E</text>
<text x="345.37" y="243.90" font-size="17.17" textLength="49.97" lengthAdjust="spacingAndGlyphs">120°E</text>
<text x="424.98" y="243.90" font-size="17.17" textLength="39.35" lengthAdjust="spacingAndGlyphs">180°</text>
<text x="-51.56" y="6.90" font-size="17.17" textLength="41.57" lengthAdjust="spacingAndGlyphs">89°N</text>
<text x="-51.66" y="42.78" font-size="17.17" textLength="41.68" lengthAdjust="spacingAndGlyphs">60°N</text>
<text x="-51.31" y="79.89" font-size="17.17" textLength="41.32" lengthAdjust="spacingAndGlyphs">30°N</text>
<text x="-28.51" y="117.00" font-size="17.17" textLength="18.15" lengthAdjust="spacingAndGlyphs">0°</text>
<text x="-50.13" y="154.11" font-size="17.17" textLength="39.45" lengthAdjust="spacingAndGlyphs">30°S</text>
<text x="-50.47" y="191.22" font-size="17.17" textLength="39.80" lengthAdjust="spacingAndGlyphs">60°S</text>
<text x="-50.37" y="227.10" font-size="17.17" textLength="39.70" lengthAdjust="spacingAndGlyphs">89°S</text>
<text x="206.58" y="-8.50" font-size="20.02" textLength="30.93" lengthAdjust="spacingAndGlyphs">DJF</text>
<text x="150.50" y="266.20" font-size="18.60" textLength="143.57" lengthAdjust="spacingAndGlyphs">Longitude [deg]</text>
<g transform="translate(-61.5,110.10) rotate(-90)"><text x="-64.19" y="0.00" font-size="18.60" textLength="128.13" lengthAdjust="spacingAndGlyphs">Latitude [deg]</text></g>
</g>
<g transform="translate(603.3,32.8)">
<g clip-path="url(#clip)">
<rect x="0" y="0" width="444.8" height="220.2" fill="#f7f6f6"/>
<path d="M-1.8,104.3 L41.0,104.0 L82.3,104.3 L120.9,104.5 L123.6,107.0 L120.9,114.6 L109.8,115.3 L82.3,114.6 L54.8,115.3 L27.2,116.7 L-1.8,116.7Z" fill="#d4e6f1"/>
<path d="M-1.8,105.4 L41.0,104.9 L82.3,105.4 L116.7,105.6 L116.7,108.4 L82.3,109.1 L54.8,109.1 L27.2,109.8 L13.5,112.5 L6.6,115.3 L-1.8,116.0Z" fill="#9dcbe1"/>
<path d="M-1.8,106.1 L27.2,105.9 L61.7,105.9 L82.3,106.3 L112.6,106.3 L114.0,107.7 L82.3,107.7 L54.8,107.4 L27.2,107.7 L13.5,108.4 L-1.8,108.4Z" fill="#59a1ca"/>
<path d="M65.8,112.2 L82.3,112.0 L107.1,112.5 L108.5,113.9 L82.3,113.9 L65.8,113.6Z" fill="#59a1ca"/>
<path d="M-1.8,109.8 L13.5,109.1 L20.4,111.1 L13.5,114.6 L3.8,115.3 L-1.8,115.3Z" fill="#9dcbe1"/>
<path d="M-1.8,96.3 L20.4,95.3 L41.0,94.6 L61.7,94.6 L76.8,94.9 L82.3,96.3 L76.8,99.4 L68.5,101.5 L54.8,102.9 L41.0,103.6 L20.4,104.0 L-1.8,104.0Z" fill="#fdddcb"/>
<path d="M-1.8,97.1 L20.4,96.3 L41.0,95.7 L57.5,96.3 L65.8,98.1 L57.5,100.8 L41.0,102.2 L20.4,102.9 L-1.8,102.9Z" fill="#f6af8e"/>
<path d="M-1.8,98.1 L20.4,97.1 L41.0,96.8 L52.0,97.7 L54.8,99.4 L47.9,101.2 L27.2,102.2 L-1.8,102.2Z" fill="#de735c"/>
<path d="M3.8,99.0 L20.4,98.2 L41.0,97.9 L49.3,99.0 L46.5,100.8 L27.2,101.5 L3.8,101.5Z" fill="#be3036"/>
<path d="M34.1,98.8 L45.1,98.8 L47.9,99.9 L43.8,100.8 L35.5,100.8Z" fill="#870a24"/>
<path d="M85.1,94.6 L96.1,93.9 L103.0,95.3 L93.3,97.4 L86.4,97.1Z" fill="#fdddcb"/>
<path d="M94.7,100.1 L104.3,99.4 L116.7,99.9 L120.9,102.2 L116.7,104.0 L104.3,104.3 L94.7,102.9Z" fill="#fdddcb"/>
<path d="M104.3,100.4 L116.7,100.8 L118.1,102.9 L107.1,103.6Z" fill="#de735c"/>
<path d="M-1.8,118.0 L20.4,116.7 L38.2,116.0 L68.5,115.6 L96.1,116.0 L109.8,116.7 L108.5,120.1 L82.3,120.8 L54.8,120.8 L41.0,122.2 L47.9,127.7 L57.5,133.2 L68.5,140.1 L75.4,148.3 L75.4,151.8 L68.5,148.3 L58.9,142.8 L47.9,137.3 L38.2,131.8 L27.2,131.8 L13.5,130.4 L-1.8,129.0Z" fill="#fdddcb"/>
<path d="M-1.8,120.8 L13.5,120.1 L24.5,120.8 L32.7,124.9 L34.1,129.0 L27.2,131.1 L13.5,129.0 L-1.8,127.7Z" fill="#f6af8e"/>
<path d="M47.9,116.7 L68.5,116.4 L96.1,116.7 L107.1,117.8 L96.1,119.7 L68.5,119.7 L52.0,119.4Z" fill="#f6af8e"/>
<path d="M3.8,122.2 L16.2,121.5 L27.2,124.9 L31.4,128.4 L24.5,130.4 L10.7,128.4 L3.8,126.3Z" fill="#de735c"/>
<path d="M54.8,117.1 L75.4,116.9 L96.1,117.3 L89.2,119.1 L68.5,119.1Z" fill="#de735c"/>
<path d="M-1.8,134.6 L6.6,131.8 L20.4,134.6 L34.1,137.3 L47.9,142.8 L54.8,151.1 L47.9,159.2 L-1.8,159.2Z" fill="#d4e6f1"/>
<path d="M20.4,74.0 L27.2,69.8 L35.5,67.1 L34.1,74.0 L25.9,78.1 L20.4,78.1Z" fill="#d4e6f1"/>
<path d="M3.8,92.6 L13.5,91.2 L27.2,90.5 L34.1,91.6 L27.2,93.9 L6.6,94.6Z" fill="#d4e6f1"/>
<path d="M96.1,85.0 L104.3,87.0 L112.6,91.9 L123.6,96.7 L120.9,98.8 L109.8,94.6 L101.6,90.5 L96.1,87.7Z" fill="#fdddcb"/>
<path d="M104.3,60.2 L123.6,60.2 L137.4,64.3 L137.4,69.8 L126.4,68.5 L116.7,65.7 L107.1,64.3Z" fill="#fdddcb"/>
<path d="M134.6,74.0 L149.2,71.2 L149.2,87.7 L137.4,86.4Z" fill="#d4e6f1"/>
<path d="M146.2,91.9 L161.5,96.0 L182.1,98.8 L195.9,100.1 L206.9,101.5 L202.8,104.3 L182.1,105.6 L168.4,107.0 L154.6,104.3 L146.2,100.1Z" fill="#d4e6f1"/>
<path d="M153.2,101.5 L168.4,101.5 L182.1,102.9 L189.0,104.3 L175.2,105.6 L161.5,105.6 L156.0,104.3Z" fill="#9dcbe1"/>
<path d="M146.2,72.6 L156.0,71.9 L164.2,74.0 L169.7,76.7 L164.2,82.2 L156.0,87.7 L146.2,89.1Z" fill="#d4e6f1"/>
<path d="M146.2,102.9 L154.6,104.3 L158.7,107.7 L153.2,112.5 L146.2,112.5Z" fill="#59a1ca"/>
<path d="M161.5,107.0 L182.1,105.6 L202.8,104.3 L216.5,103.6 L230.3,102.9 L235.8,104.3 L238.6,115.3 L235.8,120.8 L216.5,120.8 L202.8,122.2 L189.0,124.9 L178.0,129.0 L175.2,131.8 L179.4,124.9 L175.2,118.0 L164.2,112.5Z" fill="#fdddcb"/>
<path d="M165.6,107.7 L186.2,106.3 L205.5,104.9 L224.8,104.3 L233.1,105.6 L235.8,112.5 L230.3,116.7 L209.7,118.0 L195.9,119.4 L182.1,123.5 L178.0,120.8 L168.4,113.9Z" fill="#f6af8e"/>
<path d="M168.4,108.4 L189.0,107.0 L206.9,105.6 L224.8,105.6 L231.7,108.4 L230.3,112.5 L213.8,113.9 L200.0,115.3 L189.0,118.0 L179.4,119.4 L175.2,115.3 L169.7,111.8Z" fill="#de735c"/>
<path d="M171.1,109.8 L189.0,108.4 L205.5,107.0 L213.8,107.7 L202.8,111.1 L191.8,113.9 L182.1,116.7 L178.0,115.3Z" fill="#be3036"/>
<path d="M179.4,113.2 L189.0,111.8 L194.5,113.2 L187.6,116.0 L180.7,116.7Z" fill="#870a24"/>
<path d="M233.1,107.0 L241.3,105.6 L244.1,111.1 L239.9,119.4 L235.8,118.0Z" fill="#f6af8e"/>
<path d="M235.8,101.5 L246.8,100.1 L257.8,101.5 L268.9,102.9 L271.6,115.3 L268.9,124.9 L260.6,126.3 L249.6,122.2 L241.3,120.8 L238.6,112.5Z" fill="#fdddcb"/>
<path d="M257.8,96.0 L268.9,94.6 L274.4,101.5 L271.6,118.0 L263.3,120.8 L257.8,112.5Z" fill="#d4e6f1"/>
<path d="M238.6,108.4 L244.1,107.0 L246.8,112.5 L241.3,113.9Z" fill="#f6af8e"/>
<path d="M271.6,113.9 L285.4,112.5 L297.2,113.9 L297.2,126.3 L285.4,124.9 L278.5,123.5 L274.4,119.4Z" fill="#fdddcb"/>
<path d="M275.7,123.5 L285.4,123.5 L292.3,131.8 L289.5,141.4 L282.6,142.8 L278.5,137.3Z" fill="#fdddcb"/>
<path d="M284.0,124.9 L286.8,126.3 L286.1,137.3 L284.0,137.3Z" fill="#f6af8e"/>
<path d="M175.2,137.3 L183.5,138.7 L193.1,142.8 L205.5,145.6 L219.3,151.1 L224.8,156.6 L216.5,157.3 L202.8,153.8 L191.8,151.1 L182.1,146.9 L175.2,142.8Z" fill="#d4e6f1"/>
<path d="M194.5,137.3 L205.5,138.7 L211.0,141.4 L200.0,142.8Z" fill="#d4e6f1"/>
<path d="M168.4,131.8 L178.0,129.0 L180.7,133.2 L172.5,137.3 L164.2,137.3Z" fill="#fdddcb"/>
<path d="M307.7,68.5 L324.2,67.1 L338.0,71.2 L342.1,76.7 L331.1,79.5 L317.4,74.0Z" fill="#d4e6f1"/>
<path d="M329.7,76.7 L338.0,74.0 L343.5,75.3 L338.0,78.1 L331.1,78.8Z" fill="#59a1ca"/>
<path d="M305.0,63.0 L317.4,61.6 L331.1,64.3 L344.9,69.8 L358.7,74.0 L368.3,71.2 L373.8,67.1 L379.3,65.7 L386.2,68.5 L379.3,78.1 L371.0,83.6 L362.8,85.0 L351.8,78.1 L338.0,74.0 L324.2,69.8 L310.5,67.1Z" fill="#fdddcb"/>
<path d="M393.1,60.2 L406.8,60.2 L404.1,64.3 L393.1,65.7Z" fill="#fdddcb"/>
<path d="M409.6,72.6 L420.6,69.8 L427.5,71.2 L426.1,76.7 L415.1,78.1Z" fill="#d4e6f1"/>
<path d="M295.2,108.4 L310.5,105.6 L324.2,102.9 L338.0,101.5 L344.9,104.3 L351.8,108.4 L358.7,115.3 L365.5,119.4 L372.4,124.9 L379.3,126.3 L365.5,130.4 L351.8,129.0 L338.0,126.3 L324.2,129.0 L310.5,130.4 L295.2,129.0Z" fill="#fdddcb"/>
<path d="M303.6,108.4 L324.2,105.6 L338.0,104.3 L343.5,107.0 L338.0,112.5 L324.2,113.9 L310.5,112.5 L303.6,111.1Z" fill="#f6af8e"/>
<path d="M295.2,118.0 L310.5,120.8 L324.2,124.9 L317.4,127.7 L303.6,127.7 L295.2,124.9Z" fill="#f6af8e"/>
<path d="M339.4,104.3 L346.3,102.9 L354.5,112.5 L361.4,118.0 L355.9,119.4 L347.6,112.5Z" fill="#de735c"/>
<path d="M354.5,101.5 L365.5,100.1 L379.3,101.5 L393.1,101.5 L406.8,102.9 L420.6,101.5 L446.2,99.4 L446.2,105.6 L420.6,105.6 L406.8,107.0 L393.1,108.4 L386.2,112.5 L393.1,115.3 L406.8,119.4 L420.6,122.2 L434.4,120.8 L446.2,120.8 L446.2,126.3 L427.5,126.3 L413.7,124.9 L400.0,124.9 L386.2,126.3 L372.4,123.5 L362.8,120.8 L355.9,112.5Z" fill="#f6af8e"/>
<path d="M358.7,104.3 L368.3,101.5 L379.3,102.9 L393.1,102.9 L401.3,104.3 L393.1,107.0 L382.1,111.1 L373.8,115.3 L365.5,115.3 L360.0,111.1Z" fill="#de735c"/>
<path d="M420.6,101.5 L434.4,100.1 L446.2,99.9 L446.2,104.3 L434.4,104.3 L420.6,103.6Z" fill="#de735c"/>
<path d="M413.7,119.4 L427.5,120.8 L446.2,120.8 L446.2,124.9 L427.5,124.2 L416.5,122.8Z" fill="#de735c"/>
<path d="M379.3,104.3 L390.3,104.3 L395.8,106.3 L386.2,108.4 L379.3,107.7Z" fill="#be3036"/>
<path d="M384.8,119.4 L395.8,118.0 L406.8,120.8 L401.3,123.5 L390.3,122.8Z" fill="#be3036"/>
<path d="M434.4,100.8 L446.2,100.4 L446.2,103.6 L435.8,103.2Z" fill="#be3036"/>
<path d="M361.4,105.6 L366.9,104.3 L368.3,108.4 L364.2,109.8Z" fill="#be3036"/>
<path d="M373.8,90.5 L393.1,87.7 L413.7,89.1 L434.4,91.9 L446.2,92.6 L446.2,98.8 L420.6,100.1 L400.0,100.8 L382.1,100.8 L376.6,97.4Z" fill="#d4e6f1"/>
<path d="M379.3,92.6 L400.0,93.2 L420.6,96.0 L413.7,98.1 L393.1,98.1 L382.1,96.7Z" fill="#9dcbe1"/>
<path d="M382.1,93.9 L400.0,94.6 L417.9,96.3 L400.0,97.1 L384.8,96.3Z" fill="#59a1ca"/>
<path d="M395.8,107.0 L406.8,105.6 L420.6,105.4 L446.2,104.9 L446.2,119.4 L427.5,118.7 L413.7,118.0 L401.3,114.6Z" fill="#d4e6f1"/>
<path d="M398.6,108.4 L413.7,106.3 L434.4,105.9 L446.2,105.6 L446.2,118.0 L427.5,117.3 L413.7,116.0 L402.7,113.2Z" fill="#9dcbe1"/>
<path d="M402.7,109.1 L420.6,107.0 L446.2,106.7 L446.2,116.7 L427.5,116.0 L413.7,114.6 L405.5,112.5Z" fill="#59a1ca"/>
<path d="M406.8,109.8 L420.6,108.1 L446.2,107.7 L446.2,114.6 L434.4,114.6 L420.6,113.9 L411.0,112.5Z" fill="#2c75b4"/>
<path d="M331.1,131.8 L342.1,134.6 L346.3,145.6 L349.0,153.8 L338.0,151.1 L333.9,142.8Z" fill="#d4e6f1"/>
<path d="M303.6,145.6 L317.4,148.3 L321.5,153.8 L307.7,153.8Z" fill="#d4e6f1"/>
<path d="M404.1,126.3 L420.6,127.7 L434.4,129.0 L446.2,129.0 L446.2,137.3 L434.4,137.3 L420.6,134.6Z" fill="#fdddcb"/>
<path d="M417.9,134.6 L434.4,137.3 L446.2,140.1 L446.2,153.8 L434.4,149.7 L423.4,142.8Z" fill="#d4e6f1"/>
<path d="M125.5,97.7 L135.6,96.9 L146.4,98.5 L154.7,102.7 L159.7,107.7 L159.7,113.6 L152.2,116.1 L143.9,114.4 L135.6,111.9 L127.2,110.2 L123.9,105.2Z" fill="#d4e6f1"/>
<path d="M139.7,104.4 L149.7,105.2 L156.4,109.4 L154.7,114.4 L148.1,114.4 L142.2,110.2Z" fill="#9dcbe1"/>
<path d="M146.4,107.7 L152.2,108.6 L154.7,111.1 L151.4,111.9 L147.2,110.6Z" fill="#59a1ca"/>
<path d="M148.1,115.2 L161.4,112.7 L168.9,114.4 L178.1,116.9 L176.4,124.4 L173.1,130.2 L166.4,131.9 L159.7,128.6 L152.2,122.7Z" fill="#fdddcb"/>
<path d="M127.2,111.9 L136.4,112.7 L139.7,118.6 L133.1,120.2 L127.2,116.9Z" fill="#fdddcb"/>
<path d="M139.7,122.7 L148.1,123.6 L152.2,128.6 L146.4,130.2 L141.4,126.9Z" fill="#fdddcb"/>
<path d="M161.4,112.7 L168.9,114.0 L178.1,117.3 L176.4,122.7 L171.4,120.2 L164.8,117.7 L162.2,115.2Z" fill="#f6af8e"/>
<path d="M124.7,111.1 L131.4,111.1 L136.4,113.6 L134.7,116.9 L127.2,116.1Z" fill="#fdddcb"/>
<path d="M124.7,109.4 L127.2,109.4 L127.2,116.1 L124.7,115.2Z" fill="#9dcbe1"/>
<path d="M152.2,96.9 L164.8,98.5 L181.4,100.2 L196.2,101.9 L196.2,106.0 L181.4,105.2 L168.9,104.4 L160.6,103.5Z" fill="#d4e6f1"/>
<path d="M161.4,101.9 L173.1,102.7 L189.8,103.5 L189.8,105.2 L173.1,105.2 L163.1,104.4Z" fill="#9dcbe1"/>
<path d="M174.8,135.3 L181.4,136.9 L189.8,140.3 L196.2,141.9 L196.2,148.6 L189.8,146.9 L183.1,143.6 L176.4,140.3Z" fill="#d4e6f1"/>
<path d="M165.2,45.8 L175.5,43.7 L181.7,47.8 L175.5,54.0 L169.3,56.1Z" fill="#d4e6f1"/>
<path d="M204.5,18.8 L224.2,12.6 L224.2,23.0 L212.8,26.1 L202.4,27.1Z" fill="#d4e6f1"/>
<path d="M171.4,31.3 L185.9,27.1 L198.3,23.0 L204.5,25.1 L192.1,31.3 L175.5,34.4Z" fill="#d4e6f1"/>
<path d="M115.5,70.2 L123.8,62.3 L134.2,59.2 L144.5,62.3 L140.4,70.2Z" fill="#fdddcb"/>
<path d="M36.9,35.4 L51.4,36.4 L61.8,39.5 L59.7,41.6 L47.3,39.5Z" fill="#fdddcb"/>
<path d="M220.2,13.7 L234.1,11.6 L252.7,14.7 L273.4,16.8 L283.8,19.9 L273.4,21.9 L252.7,20.9 L234.1,23.0 L220.2,27.1Z" fill="#d4e6f1"/>
<path d="M383.1,60.3 L393.4,58.2 L407.9,60.3 L403.7,64.4 L391.3,66.5 L383.1,70.2Z" fill="#fdddcb"/>
<path d="M-1.8,131.3 L16.2,133.4 L30.7,139.6 L45.2,145.8 L53.5,150.0 L41.1,152.1 L26.6,158.3 L12.1,156.2 L-1.8,154.1Z" fill="#d4e6f1"/>
<path d="M90.7,153.1 L103.1,152.1 L113.5,160.3 L103.1,160.3Z" fill="#d4e6f1"/>
<path d="M175.5,135.5 L196.2,139.6 L210.7,143.8 L224.2,147.9 L224.2,156.2 L206.6,154.1 L190.0,147.9 L177.6,141.7Z" fill="#d4e6f1"/>
<path d="M36.9,131.3 L53.5,135.5 L65.9,139.6 L76.2,151.0 L70.0,151.0 L57.6,143.8 L41.1,137.6Z" fill="#fdddcb"/>
<path d="M220.2,150.0 L234.1,152.1 L246.5,158.3 L256.9,161.4 L252.7,164.5 L238.2,163.4 L220.2,158.3Z" fill="#d4e6f1"/>
<path d="M331.3,133.4 L339.6,131.3 L341.7,139.6 L347.9,150.0 L350.0,154.1 L341.7,154.1 L335.5,147.9 L331.3,141.7Z" fill="#d4e6f1"/>
<path d="M416.2,131.3 L428.6,129.3 L446.2,131.3 L446.2,147.9 L432.7,147.9 L420.3,141.7Z" fill="#d4e6f1"/>
<path d="M254.8,154.1 L263.1,152.1 L265.1,157.2 L256.9,158.3Z" fill="#fdddcb"/>
<path d="M407.9,150.0 L416.2,152.1 L412.0,164.5 L405.8,164.5Z" fill="#fdddcb"/>
<use href="#coast"/>
</g>
<rect x="0" y="0" width="444.8" height="220.2" fill="none" stroke="#000" stroke-width="1.1"/>
<path d="M0.00,220.20 v4.86 M74.13,220.20 v4.86 M148.27,220.20 v4.86 M222.40,220.20 v4.86 M296.53,220.20 v4.86 M370.67,220.20 v4.86 M444.80,220.20 v4.86 M0,0.00 h-4.86 M0,35.88 h-4.86 M0,72.99 h-4.86 M0,110.10 h-4.86 M0,147.21 h-4.86 M0,184.32 h-4.86 M0,220.20 h-4.86" stroke="#000" stroke-width="1.1" fill="none"/>
<text x="-19.82" y="243.90" font-size="17.17" textLength="39.35" lengthAdjust="spacingAndGlyphs">180°</text>
<text x="45.58" y="243.90" font-size="17.17" textLength="55.76" lengthAdjust="spacingAndGlyphs">120°W</text>
<text x="125.17" y="243.90" font-size="17.17" textLength="45.32" lengthAdjust="spacingAndGlyphs">60°W</text>
<text x="213.52" y="243.90" font-size="17.17" textLength="18.15" lengthAdjust="spacingAndGlyphs">0°</text>
<text x="276.70" y="243.90" font-size="17.17" textLength="39.53" lengthAdjust="spacingAndGlyphs">60°E</text>
<text x="345.37" y="243.90" font-size="17.17" textLength="49.97" lengthAdjust="spacingAndGlyphs">120°E</text>
<text x="424.98" y="243.90" font-size="17.17" textLength="39.35" lengthAdjust="spacingAndGlyphs">180°</text>
<text x="-51.56" y="6.90" font-size="17.17" textLength="41.57" lengthAdjust="spacingAndGlyphs">89°N</text>
<text x="-51.66" y="42.78" font-size="17.17" textLength="41.68" lengthAdjust="spacingAndGlyphs">60°N</text>
<text x="-51.31" y="79.89" font-size="17.17" textLength="41.32" lengthAdjust="spacingAndGlyphs">30°N</text>
<text x="-28.51" y="117.00" font-size="17.17" textLength="18.15" lengthAdjust="spacingAndGlyphs">0°</text>
<text x="-50.13" y="154.11" font-size="17.17" textLength="39.45" lengthAdjust="spacingAndGlyphs">30°S</text>
<text x="-50.47" y="191.22" font-size="17.17" textLength="39.80" lengthAdjust="spacingAndGlyphs">60°S</text>
<text x="-50.37" y="227.10" font-size="17.17" textLength="39.70" lengthAdjust="spacingAndGlyphs">89°S</text>
<text x="199.24" y="-8.50" font-size="20.02" textLength="46.32" lengthAdjust="spacingAndGlyphs">MAM</text>
<text x="150.50" y="266.20" font-size="18.60" textLength="143.57" lengthAdjust="spacingAndGlyphs">Longitude [deg]</text>
<g transform="translate(-61.5,110.10) rotate(-90)"><text x="-64.19" y="0.00" font-size="18.60" textLength="128.13" lengthAdjust="spacingAndGlyphs">Latitude [deg]</text></g>
</g>
<g transform="translate(85.0,364.2)">
<g clip-path="url(#clip)">
<rect x="0" y="0" width="444.8" height="220.2" fill="#f7f6f6"/>
<path d="M-1.5,94.2 L20.7,92.8 L41.3,92.2 L55.1,90.1 L68.8,90.8 L82.6,92.8 L96.4,94.2 L110.1,94.9 L117.0,97.0 L110.1,101.1 L96.4,102.5 L82.6,101.8 L55.1,101.8 L27.5,102.2 L-1.5,102.5Z" fill="#fdddcb"/>
<path d="M-1.5,95.3 L20.7,94.2 L41.3,93.5 L55.1,94.2 L68.8,94.9 L82.6,95.9 L96.4,97.0 L99.1,99.7 L82.6,100.4 L55.1,100.7 L27.5,101.1 L-1.5,101.4Z" fill="#f6af8e"/>
<path d="M-1.5,96.3 L13.8,95.9 L27.5,96.3 L41.3,97.0 L44.1,99.0 L27.5,100.0 L-1.5,100.4Z" fill="#de735c"/>
<path d="M68.8,96.3 L82.6,97.0 L89.5,98.4 L82.6,99.7 L71.6,99.5Z" fill="#de735c"/>
<path d="M-1.5,97.3 L13.8,97.0 L24.8,97.7 L26.2,99.5 L13.8,99.7 L-1.5,99.7Z" fill="#be3036"/>
<path d="M-1.5,102.5 L41.3,102.5 L68.8,103.2 L96.4,103.9 L110.1,105.2 L110.1,107.3 L82.6,108.0 L55.1,108.7 L27.5,110.7 L13.8,112.8 L-1.5,113.5Z" fill="#d4e6f1"/>
<path d="M-1.5,103.6 L27.5,103.6 L41.3,104.5 L27.5,106.6 L13.8,108.0 L-1.5,109.4Z" fill="#9dcbe1"/>
<path d="M-1.5,104.1 L13.8,104.1 L20.7,105.0 L13.8,106.3 L-1.5,107.3Z" fill="#59a1ca"/>
<path d="M-1.5,104.5 L6.9,104.5 L8.3,105.7 L-1.5,106.3Z" fill="#2c75b4"/>
<path d="M-1.5,114.9 L13.8,114.9 L24.8,116.3 L22.0,119.0 L27.5,124.5 L34.4,128.0 L31.7,130.7 L24.8,135.5 L19.3,134.2 L11.0,128.6 L-1.5,125.9Z" fill="#fdddcb"/>
<path d="M-1.5,116.9 L11.0,116.9 L16.5,120.4 L13.8,125.9 L5.5,127.3 L-1.5,125.9Z" fill="#f6af8e"/>
<path d="M-1.5,119.0 L5.5,119.0 L8.3,123.1 L4.1,125.2 L-1.5,124.5Z" fill="#de735c"/>
<path d="M31.7,121.1 L41.3,120.1 L47.5,121.8 L41.3,123.4 L33.0,122.9Z" fill="#d4e6f1"/>
<path d="M-1.5,134.2 L8.3,136.9 L20.7,142.4 L33.0,147.9 L31.7,150.0 L20.7,147.9 L8.3,145.2 L-1.5,143.8Z" fill="#d4e6f1"/>
<path d="M46.8,143.1 L52.3,142.4 L55.1,146.5 L49.6,147.9Z" fill="#d4e6f1"/>
<path d="M1.4,74.9 L8.3,72.2 L13.8,69.4 L13.8,74.9 L5.5,79.1 L1.4,79.8Z" fill="#d4e6f1"/>
<path d="M17.9,86.6 L24.8,85.3 L30.3,86.2 L24.8,87.6Z" fill="#fdddcb"/>
<path d="M89.5,83.2 L101.9,84.6 L114.3,89.4 L123.9,94.2 L126.7,98.4 L118.4,99.0 L108.8,94.2 L96.4,89.4 L89.5,86.0Z" fill="#fdddcb"/>
<path d="M92.2,84.6 L101.9,86.0 L112.9,90.1 L121.2,94.2 L123.9,97.0 L118.4,97.0 L110.1,92.8 L99.1,88.7 L92.2,86.6Z" fill="#f6af8e"/>
<path d="M123.9,90.1 L132.2,80.5 L137.7,74.9 L149.5,73.6 L149.5,92.8 L137.7,94.2 L128.0,94.2Z" fill="#d4e6f1"/>
<path d="M128.0,73.6 L134.9,68.1 L141.8,65.3 L145.9,66.7 L137.7,72.2 L130.8,74.9Z" fill="#fdddcb"/>
<path d="M110.1,103.9 L118.4,103.9 L123.9,105.2 L121.2,108.0 L112.9,107.3Z" fill="#f6af8e"/>
<path d="M146.5,79.1 L159.0,79.1 L168.7,84.6 L189.3,90.1 L205.8,91.5 L225.1,91.5 L244.4,92.2 L265.0,91.5 L271.9,95.6 L265.0,99.7 L244.4,97.0 L225.1,96.3 L207.2,97.0 L189.3,97.7 L168.7,97.0 L154.9,95.6 L146.5,92.8Z" fill="#d4e6f1"/>
<path d="M171.4,95.9 L182.4,94.9 L196.2,93.5 L212.7,92.8 L214.1,94.9 L203.1,97.0 L189.3,97.7 L175.5,98.4Z" fill="#9dcbe1"/>
<path d="M182.4,96.3 L196.2,94.9 L205.8,96.3 L200.3,98.4 L189.3,99.0Z" fill="#59a1ca"/>
<path d="M189.3,96.7 L200.3,95.9 L203.1,98.4 L194.8,99.0Z" fill="#2c75b4"/>
<path d="M234.7,101.1 L244.4,98.4 L258.1,99.0 L260.9,105.2 L258.1,113.5 L249.9,114.9 L238.9,113.5 L236.1,108.0Z" fill="#fdddcb"/>
<path d="M244.4,108.0 L252.6,107.3 L254.0,112.1 L247.1,112.8Z" fill="#f6af8e"/>
<path d="M260.9,92.8 L269.2,91.5 L270.5,101.1 L266.4,109.4 L260.9,105.2Z" fill="#d4e6f1"/>
<path d="M146.5,97.0 L161.8,98.4 L182.4,99.7 L203.1,101.1 L216.8,102.5 L230.6,103.9 L236.1,106.6 L236.1,114.9 L225.1,114.2 L210.0,112.1 L189.3,111.4 L168.7,109.4 L156.3,108.0 L146.5,105.2Z" fill="#fdddcb"/>
<path d="M150.8,99.0 L168.7,100.0 L189.3,101.1 L210.0,102.5 L230.6,104.5 L234.7,109.4 L233.4,112.8 L216.8,111.4 L196.2,110.5 L175.5,109.1 L159.0,107.3 L152.1,103.9Z" fill="#f6af8e"/>
<path d="M156.3,100.0 L175.5,101.1 L196.2,101.8 L214.1,103.2 L230.6,105.2 L233.4,110.7 L225.1,111.4 L203.1,110.1 L182.4,108.7 L164.5,106.6 L157.6,103.9Z" fill="#de735c"/>
<path d="M161.8,101.1 L182.4,101.9 L203.1,102.5 L223.7,104.5 L232.0,107.3 L225.1,109.4 L203.1,108.3 L182.4,107.3 L167.3,105.2Z" fill="#be3036"/>
<path d="M170.0,102.8 L189.3,102.8 L205.8,103.2 L214.1,104.5 L203.1,106.6 L186.5,106.3 L172.8,105.0Z" fill="#870a24"/>
<path d="M186.5,103.6 L203.1,103.6 L210.0,105.0 L200.3,105.9 L189.3,105.5Z" fill="#67001f"/>
<path d="M178.3,117.6 L186.5,118.3 L188.6,120.4 L181.0,121.8Z" fill="#d4e6f1"/>
<path d="M255.4,153.4 L271.9,152.1 L285.7,154.8 L285.7,158.8 L255.4,158.8Z" fill="#fdddcb"/>
<path d="M280.2,131.4 L285.7,132.8 L291.2,141.0 L285.7,143.8 L281.5,139.7Z" fill="#fdddcb"/>
<path d="M282.9,108.0 L289.8,102.5 L297.5,99.7 L297.5,112.1 L288.4,113.5Z" fill="#fdddcb"/>
<path d="M287.1,119.0 L293.9,117.6 L297.5,118.3 L297.5,122.4 L289.8,122.4Z" fill="#9dcbe1"/>
<path d="M414.0,66.7 L427.8,62.6 L446.5,61.2 L446.5,87.3 L434.7,84.6 L427.8,80.5 L420.9,74.9Z" fill="#d4e6f1"/>
<path d="M308.0,66.7 L324.5,65.3 L338.3,68.1 L345.2,73.6 L338.3,79.1 L324.5,76.3 L310.8,73.6Z" fill="#d4e6f1"/>
<path d="M317.7,72.2 L331.4,74.9 L342.4,74.9 L338.3,78.4 L324.5,77.7 L317.7,74.9Z" fill="#59a1ca"/>
<path d="M328.7,77.0 L338.3,77.4 L336.9,79.1 L330.0,79.1Z" fill="#be3036"/>
<path d="M301.1,84.6 L308.0,83.2 L312.1,90.1 L305.3,92.8 L299.8,91.5Z" fill="#d4e6f1"/>
<path d="M376.9,73.6 L386.5,68.1 L396.1,63.9 L401.6,65.3 L393.4,72.2 L383.7,79.1 L376.9,80.5Z" fill="#fdddcb"/>
<path d="M295.5,94.2 L310.8,92.8 L317.7,94.2 L324.5,91.5 L338.3,90.1 L345.2,92.8 L352.1,98.4 L354.8,103.9 L359.0,112.1 L352.1,114.9 L338.3,116.3 L324.5,114.9 L310.8,112.1 L295.5,112.1Z" fill="#fdddcb"/>
<path d="M295.5,97.0 L308.0,95.6 L317.7,97.0 L331.4,94.2 L342.4,94.2 L349.3,99.7 L352.1,105.2 L338.3,106.6 L324.5,108.0 L310.8,108.0 L295.5,106.6Z" fill="#f6af8e"/>
<path d="M295.5,98.4 L305.3,97.7 L313.5,99.7 L321.8,103.9 L317.7,106.6 L308.0,105.2 L295.5,103.9Z" fill="#de735c"/>
<path d="M341.1,92.8 L346.6,94.2 L352.1,101.1 L350.7,105.2 L345.2,101.1Z" fill="#de735c"/>
<path d="M302.5,99.7 L310.8,99.7 L314.9,102.5 L310.8,103.9 L303.9,103.2Z" fill="#be3036"/>
<path d="M342.4,87.3 L352.1,87.3 L357.6,94.2 L354.8,99.7 L349.3,98.4 L343.8,92.8Z" fill="#f6af8e"/>
<path d="M345.2,92.8 L350.7,94.2 L352.1,98.4 L347.9,97.0Z" fill="#be3036"/>
<path d="M354.8,98.4 L368.6,95.6 L379.6,99.7 L386.5,105.2 L379.6,114.9 L368.6,117.6 L359.0,114.9Z" fill="#fdddcb"/>
<path d="M360.3,101.1 L371.3,99.7 L379.6,102.5 L376.9,112.1 L365.8,114.9 L360.3,109.4Z" fill="#f6af8e"/>
<path d="M376.9,87.3 L393.4,86.0 L414.0,87.3 L427.8,90.1 L420.9,95.6 L407.1,97.0 L393.4,97.7 L379.6,95.6Z" fill="#d4e6f1"/>
<path d="M382.4,90.1 L400.3,88.7 L418.2,90.8 L414.0,94.2 L400.3,95.6 L385.1,94.9Z" fill="#9dcbe1"/>
<path d="M390.6,91.5 L401.6,90.8 L407.1,92.8 L398.9,94.9 L392.0,94.2Z" fill="#59a1ca"/>
<path d="M414.0,97.0 L427.8,95.6 L446.5,94.2 L446.5,103.9 L427.8,103.9 L416.8,101.1Z" fill="#fdddcb"/>
<path d="M420.9,98.4 L434.7,97.0 L446.5,96.3 L446.5,102.5 L431.9,101.8Z" fill="#f6af8e"/>
<path d="M427.8,99.0 L446.5,97.7 L446.5,101.1 L431.9,101.1Z" fill="#de735c"/>
<path d="M386.5,105.2 L407.1,103.9 L427.8,103.2 L446.5,103.2 L446.5,114.9 L427.8,114.2 L414.0,114.9 L401.6,116.3 L393.4,112.1Z" fill="#d4e6f1"/>
<path d="M396.1,107.3 L414.0,105.9 L434.7,105.2 L446.5,105.2 L446.5,112.8 L427.8,112.8 L407.1,112.8Z" fill="#9dcbe1"/>
<path d="M404.4,108.0 L420.9,106.6 L446.5,106.6 L446.5,111.4 L427.8,111.8 L414.0,111.4Z" fill="#59a1ca"/>
<path d="M414.0,108.0 L427.8,107.3 L434.7,108.7 L427.8,110.7 L416.8,110.1Z" fill="#2c75b4"/>
<path d="M404.4,114.9 L420.9,114.9 L446.5,114.2 L446.5,125.9 L427.8,124.5 L414.0,121.8Z" fill="#fdddcb"/>
<path d="M409.9,116.3 L427.8,116.0 L446.5,115.6 L446.5,123.8 L427.8,122.4 L415.4,120.4Z" fill="#f6af8e"/>
<path d="M418.2,117.6 L434.7,116.9 L446.5,116.9 L446.5,122.4 L431.9,121.8Z" fill="#de735c"/>
<path d="M427.8,119.0 L440.2,118.3 L446.5,119.0 L446.5,121.8 L434.7,121.5Z" fill="#be3036"/>
<path d="M295.5,113.5 L310.8,114.9 L324.5,117.6 L338.3,120.4 L352.1,123.1 L349.3,131.4 L338.3,136.9 L324.5,131.4 L310.8,125.9 L295.5,123.1Z" fill="#d4e6f1"/>
<path d="M317.7,119.0 L331.4,119.7 L338.3,123.1 L331.4,125.9 L321.8,124.5Z" fill="#9dcbe1"/>
<path d="M321.8,120.4 L330.0,120.7 L335.5,123.1 L330.0,124.5Z" fill="#59a1ca"/>
<path d="M420.9,125.9 L434.7,128.6 L446.5,131.4 L446.5,149.3 L434.7,145.2 L426.4,136.9Z" fill="#d4e6f1"/>
<path d="M125.8,99.0 L135.9,98.1 L144.2,99.8 L150.0,104.8 L150.0,115.7 L144.2,122.3 L135.9,128.2 L128.3,126.5 L124.2,119.8 L123.3,111.5Z" fill="#fdddcb"/>
<path d="M135.9,103.1 L146.7,104.8 L148.4,111.5 L142.5,114.0 L136.7,109.8Z" fill="#d4e6f1"/>
<path d="M128.3,101.5 L133.4,100.6 L133.8,104.0 L130.0,105.2 L128.3,103.6Z" fill="#de735c"/>
<path d="M123.3,108.2 L127.5,107.3 L128.3,115.7 L125.0,116.5Z" fill="#9dcbe1"/>
<path d="M113.5,102.3 L123.3,102.3 L126.7,105.6 L125.8,109.0 L113.5,109.0Z" fill="#fdddcb"/>
<path d="M113.5,104.0 L121.7,104.0 L125.8,106.5 L123.3,108.2 L113.5,107.3Z" fill="#f6af8e"/>
<path d="M176.7,115.7 L183.4,117.3 L188.4,119.0 L183.4,120.7 L178.4,121.5Z" fill="#d4e6f1"/>
<path d="M165.5,57.8 L175.8,51.6 L190.3,45.4 L206.9,41.2 L224.5,39.1 L224.5,49.5 L206.9,53.6 L186.2,59.9 L169.6,61.9Z" fill="#d4e6f1"/>
<path d="M134.5,61.9 L155.1,59.9 L161.4,61.9 L144.8,64.0Z" fill="#d4e6f1"/>
<path d="M292.3,43.3 L308.9,41.2 L325.4,44.3 L337.8,47.4 L346.1,51.6 L329.6,51.6 L315.1,49.5 L296.5,47.4Z" fill="#d4e6f1"/>
<path d="M418.5,61.9 L433.0,55.7 L446.5,53.6 L446.5,69.8 L418.5,69.8Z" fill="#d4e6f1"/>
<path d="M155.1,163.0 L163.4,162.0 L175.8,168.2 L163.4,169.9 L156.2,168.2Z" fill="#d4e6f1"/>
<path d="M200.7,155.8 L206.9,154.8 L215.1,158.9 L208.9,162.0Z" fill="#fdddcb"/>
<path d="M253.0,153.7 L263.4,151.7 L284.1,153.7 L304.7,156.8 L306.8,158.9 L284.1,157.9 L263.4,157.5 L253.0,156.8Z" fill="#fdddcb"/>
<path d="M279.9,137.2 L286.1,135.1 L290.3,141.3 L284.1,143.4Z" fill="#fdddcb"/>
<path d="M236.5,158.9 L248.9,157.9 L263.4,159.9 L259.2,164.1 L242.7,164.1Z" fill="#d4e6f1"/>
<path d="M292.3,162.0 L300.6,161.6 L302.7,165.1 L294.4,165.1Z" fill="#d4e6f1"/>
<path d="M313.0,169.3 L321.3,168.2 L325.4,170.3 L319.2,172.4 L313.0,171.9Z" fill="#fdddcb"/>
<path d="M325.4,126.8 L346.1,126.8 L350.3,137.2 L342.0,137.2 L329.6,130.9Z" fill="#d4e6f1"/>
<path d="M342.0,145.4 L348.2,145.4 L350.3,148.5 L344.1,148.5Z" fill="#d4e6f1"/>
<path d="M358.5,162.0 L366.8,162.0 L375.1,165.1 L366.8,166.6Z" fill="#fdddcb"/>
<path d="M399.9,153.7 L412.3,151.7 L410.2,166.1 L399.9,168.2Z" fill="#fdddcb"/>
<path d="M408.2,126.8 L446.5,126.8 L446.5,149.6 L428.9,145.4 L418.5,137.2Z" fill="#d4e6f1"/>
<path d="M230.6,104.1 L241.6,101.1 L244.4,106.6 L243.0,112.8 L236.1,114.9 L232.0,112.1Z" fill="#f6af8e"/>
<use href="#coast"/>
</g>
<rect x="0" y="0" width="444.8" height="220.2" fill="none" stroke="#000" stroke-width="1.1"/>
<path d="M0.00,220.20 v4.86 M74.13,220.20 v4.86 M148.27,220.20 v4.86 M222.40,220.20 v4.86 M296.53,220.20 v4.86 M370.67,220.20 v4.86 M444.80,220.20 v4.86 M0,0.00 h-4.86 M0,35.88 h-4.86 M0,72.99 h-4.86 M0,110.10 h-4.86 M0,147.21 h-4.86 M0,184.32 h-4.86 M0,220.20 h-4.86" stroke="#000" stroke-width="1.1" fill="none"/>
<text x="-19.82" y="243.90" font-size="17.17" textLength="39.35" lengthAdjust="spacingAndGlyphs">180°</text>
<text x="45.58" y="243.90" font-size="17.17" textLength="55.76" lengthAdjust="spacingAndGlyphs">120°W</text>
<text x="125.17" y="243.90" font-size="17.17" textLength="45.32" lengthAdjust="spacingAndGlyphs">60°W</text>
<text x="213.52" y="243.90" font-size="17.17" textLength="18.15" lengthAdjust="spacingAndGlyphs">0°</text>
<text x="276.70" y="243.90" font-size="17.17" textLength="39.53" lengthAdjust="spacingAndGlyphs">60°E</text>
<text x="345.37" y="243.90" font-size="17.17" textLength="49.97" lengthAdjust="spacingAndGlyphs">120°E</text>
<text x="424.98" y="243.90" font-size="17.17" textLength="39.35" lengthAdjust="spacingAndGlyphs">180°</text>
<text x="-51.56" y="6.90" font-size="17.17" textLength="41.57" lengthAdjust="spacingAndGlyphs">89°N</text>
<text x="-51.66" y="42.78" font-size="17.17" textLength="41.68" lengthAdjust="spacingAndGlyphs">60°N</text>
<text x="-51.31" y="79.89" font-size="17.17" textLength="41.32" lengthAdjust="spacingAndGlyphs">30°N</text>
<text x="-28.51" y="117.00" font-size="17.17" textLength="18.15" lengthAdjust="spacingAndGlyphs">0°</text>
<text x="-50.13" y="154.11" font-size="17.17" textLength="39.45" lengthAdjust="spacingAndGlyphs">30°S</text>
<text x="-50.47" y="191.22" font-size="17.17" textLength="39.80" lengthAdjust="spacingAndGlyphs">60°S</text>
<text x="-50.37" y="227.10" font-size="17.17" textLength="39.70" lengthAdjust="spacingAndGlyphs">89°S</text>
<text x="209.53" y="-8.50" font-size="20.02" textLength="25.53" lengthAdjust="spacingAndGlyphs">JJA</text>
<text x="150.50" y="266.20" font-size="18.60" textLength="143.57" lengthAdjust="spacingAndGlyphs">Longitude [deg]</text>
<g transform="translate(-61.5,110.10) rotate(-90)"><text x="-64.19" y="0.00" font-size="18.60" textLength="128.13" lengthAdjust="spacingAndGlyphs">Latitude [deg]</text></g>
</g>
<g transform="translate(603.3,364.2)">
<g clip-path="url(#clip)">
<rect x="0" y="0" width="444.8" height="220.2" fill="#f7f6f6"/>
<path d="M5.2,68.1 L13.5,62.6 L27.2,61.2 L34.1,65.3 L41.0,70.8 L39.6,74.9 L27.2,76.3 L20.4,77.7 L10.7,80.5 L3.8,77.7Z" fill="#d4e6f1"/>
<path d="M-1.8,105.2 L20.4,105.2 L41.0,106.3 L43.8,108.0 L27.2,111.4 L13.5,112.8 L-1.8,113.5Z" fill="#d4e6f1"/>
<path d="M-1.8,116.3 L13.5,116.3 L20.4,120.4 L27.2,124.5 L36.9,127.3 L34.1,129.3 L20.4,129.3 L6.6,125.9 L-1.8,124.5Z" fill="#fdddcb"/>
<path d="M-1.8,118.3 L8.0,118.3 L10.7,121.8 L5.2,124.5 L-1.8,123.8Z" fill="#f6af8e"/>
<path d="M20.4,122.4 L30.0,120.4 L41.0,121.8 L35.5,124.5 L23.1,124.5Z" fill="#d4e6f1"/>
<path d="M-1.8,130.0 L10.7,131.4 L20.4,138.3 L24.5,143.8 L20.4,149.3 L10.7,153.4 L-1.8,152.1Z" fill="#d4e6f1"/>
<path d="M46.5,135.5 L54.8,134.2 L64.4,138.3 L74.0,143.8 L74.0,149.3 L64.4,150.7 L54.8,142.4Z" fill="#d4e6f1"/>
<path d="M94.7,63.9 L103.0,62.6 L109.8,65.3 L107.1,69.4 L98.8,69.4Z" fill="#fdddcb"/>
<path d="M123.6,69.4 L131.9,65.3 L141.5,62.6 L149.2,63.9 L149.2,70.8 L137.4,73.6 L127.7,74.9Z" fill="#fdddcb"/>
<path d="M137.4,76.3 L149.2,72.2 L149.2,83.2 L140.1,83.2Z" fill="#d4e6f1"/>
<path d="M112.6,86.0 L123.6,84.6 L137.4,84.6 L149.2,81.8 L149.2,95.6 L137.4,94.2 L123.6,92.8 L116.7,91.5Z" fill="#d4e6f1"/>
<path d="M115.3,87.3 L130.5,87.3 L144.3,88.7 L149.2,91.5 L137.4,92.8 L120.9,92.2Z" fill="#9dcbe1"/>
<path d="M131.9,87.3 L142.9,88.0 L145.6,90.1 L137.4,90.8Z" fill="#59a1ca"/>
<path d="M85.1,94.2 L96.1,94.9 L109.8,95.6 L118.1,98.4 L116.7,101.1 L104.3,101.1 L93.3,99.0 L86.4,97.7Z" fill="#d4e6f1"/>
<path d="M96.1,96.3 L109.8,97.7 L115.3,100.4 L104.3,100.4 L98.8,99.0Z" fill="#9dcbe1"/>
<path d="M103.0,98.4 L109.8,99.0 L112.6,100.8 L105.7,100.8Z" fill="#59a1ca"/>
<path d="M31.4,92.8 L47.9,89.4 L61.7,87.3 L75.4,86.6 L85.1,87.3 L82.3,92.8 L68.5,94.2 L54.8,94.9 L41.0,94.9Z" fill="#fdddcb"/>
<path d="M47.9,90.8 L61.7,89.4 L72.7,90.1 L74.0,93.5 L61.7,94.2 L52.0,93.5Z" fill="#f6af8e"/>
<path d="M-1.8,95.3 L27.2,95.3 L47.9,95.9 L68.5,98.4 L96.1,101.1 L116.7,102.5 L125.0,103.9 L125.0,108.0 L116.7,107.7 L96.1,105.9 L68.5,103.9 L41.0,102.8 L20.4,102.8 L-1.8,102.8Z" fill="#fdddcb"/>
<path d="M-1.8,96.3 L27.2,96.3 L47.9,97.0 L68.5,99.7 L96.1,102.2 L116.7,103.2 L125.0,104.5 L123.6,107.3 L109.8,106.3 L82.3,104.5 L54.8,103.2 L27.2,101.8 L-1.8,101.8Z" fill="#f6af8e"/>
<path d="M-1.8,97.3 L13.5,97.0 L27.2,97.8 L34.1,99.0 L27.2,100.8 L13.5,101.1 L-1.8,101.1Z" fill="#de735c"/>
<path d="M54.8,99.7 L75.4,100.8 L96.1,102.9 L116.7,103.9 L124.3,105.2 L122.2,106.9 L109.8,105.9 L89.2,104.1 L65.8,102.5 L54.8,101.4Z" fill="#de735c"/>
<path d="M16.2,98.4 L23.1,98.4 L24.5,100.0 L17.6,100.4Z" fill="#be3036"/>
<path d="M82.3,102.5 L103.0,103.6 L116.7,104.5 L123.6,105.5 L120.9,106.9 L109.8,106.1 L96.1,104.5 L82.3,103.6Z" fill="#be3036"/>
<path d="M109.8,104.1 L119.5,104.8 L123.6,105.8 L119.5,106.6 L112.6,106.1Z" fill="#870a24"/>
<path d="M123.6,101.1 L137.4,97.0 L149.2,97.0 L149.2,128.6 L137.4,125.9 L130.5,117.6 L125.0,112.1Z" fill="#fbe7dc"/>
<path d="M127.7,108.0 L137.4,106.6 L145.6,112.1 L142.9,119.0 L133.2,117.6Z" fill="#f6af8e"/>
<path d="M130.5,109.4 L136.0,109.4 L137.4,114.9 L131.9,116.3Z" fill="#de735c"/>
<path d="M146.2,65.3 L161.5,62.6 L175.2,65.3 L189.0,68.1 L195.9,63.9 L205.5,62.6 L208.3,65.3 L202.8,70.8 L193.1,76.3 L184.9,80.5 L195.9,86.0 L202.8,90.1 L216.5,91.5 L230.3,92.8 L251.0,94.2 L268.9,94.2 L271.6,99.7 L244.1,99.7 L224.8,101.1 L209.7,101.1 L195.9,99.7 L175.2,98.4 L161.5,97.0 L146.2,97.0Z" fill="#d4e6f1"/>
<path d="M146.2,70.8 L156.0,69.4 L164.2,73.6 L161.5,77.7 L153.2,79.1 L146.2,79.1Z" fill="#d4e6f1"/>
<path d="M146.2,87.3 L156.0,88.7 L161.5,88.7 L175.2,91.5 L189.0,94.2 L195.9,97.0 L182.1,97.7 L168.4,95.6 L156.0,92.8 L146.2,92.8Z" fill="#9dcbe1"/>
<path d="M200.0,94.2 L209.7,94.9 L230.3,96.3 L244.1,97.0 L244.1,99.0 L227.6,99.7 L209.7,99.0Z" fill="#9dcbe1"/>
<path d="M162.8,88.7 L175.2,90.8 L189.0,94.2 L191.8,96.3 L182.1,96.7 L168.4,93.5 L162.8,91.5Z" fill="#59a1ca"/>
<path d="M146.2,88.0 L151.8,88.0 L151.8,90.8 L146.2,90.8Z" fill="#59a1ca"/>
<path d="M158.7,99.0 L168.4,98.4 L182.1,101.1 L202.8,103.9 L223.4,105.2 L233.1,107.3 L235.8,112.1 L230.3,112.8 L209.7,110.7 L189.0,108.7 L168.4,106.6 L158.7,103.9Z" fill="#fdddcb"/>
<path d="M164.2,100.4 L182.1,101.8 L195.9,103.9 L182.1,105.9 L168.4,105.2Z" fill="#f6af8e"/>
<path d="M167.0,101.5 L179.4,102.5 L183.5,104.5 L175.2,105.9 L168.4,104.5Z" fill="#de735c"/>
<path d="M169.7,102.5 L176.6,102.8 L179.4,104.1 L172.5,104.8Z" fill="#be3036"/>
<path d="M202.8,105.2 L223.4,106.6 L233.1,108.0 L234.4,111.4 L223.4,110.1 L205.5,108.0Z" fill="#f6af8e"/>
<path d="M233.1,101.1 L244.1,99.7 L257.8,98.4 L268.9,98.4 L274.4,103.9 L271.6,117.6 L268.9,128.6 L257.8,131.4 L246.8,128.6 L238.6,121.8 L235.8,112.1Z" fill="#fbe7dc"/>
<path d="M241.3,106.6 L252.3,105.2 L257.8,108.0 L255.1,114.9 L246.8,116.3 L242.7,112.1Z" fill="#f9cdb5"/>
<path d="M244.8,109.6 L250.3,109.1 L252.3,112.4 L248.2,113.5Z" fill="#f6af8e"/>
<path d="M256.5,101.1 L266.1,101.1 L268.9,108.0 L264.7,117.6 L257.8,114.9Z" fill="#f9cdb5"/>
<path d="M266.1,94.2 L271.6,94.2 L273.0,99.7 L267.5,101.1Z" fill="#d4e6f1"/>
<path d="M271.6,101.1 L285.4,98.4 L297.2,97.0 L297.2,121.8 L285.4,120.4 L274.4,117.6 L271.6,109.4Z" fill="#fdddcb"/>
<path d="M278.5,102.5 L288.1,100.4 L297.2,99.7 L297.2,119.0 L285.4,117.6 L277.1,114.9Z" fill="#f6af8e"/>
<path d="M282.6,105.2 L292.3,102.5 L297.2,102.5 L297.2,117.6 L285.4,116.3 L281.2,112.1Z" fill="#de735c"/>
<path d="M285.4,108.0 L293.6,106.6 L297.2,106.6 L297.2,114.9 L288.1,114.9 L284.7,112.1Z" fill="#be3036"/>
<path d="M146.2,114.9 L161.5,112.1 L172.5,114.9 L178.0,119.0 L175.2,128.6 L168.4,136.9 L161.5,145.2 L154.6,153.4 L146.2,154.8Z" fill="#fbe7dc"/>
<path d="M150.5,117.6 L158.7,117.6 L161.5,123.1 L154.6,124.5Z" fill="#f6af8e"/>
<path d="M255.1,146.5 L260.6,145.2 L263.3,153.4 L257.8,156.2Z" fill="#fdddcb"/>
<path d="M172.5,128.6 L179.4,130.0 L184.9,135.5 L179.4,136.9 L173.9,134.2Z" fill="#d4e6f1"/>
<path d="M284.0,125.9 L290.9,124.5 L297.2,125.9 L297.2,142.4 L285.4,141.0Z" fill="#fbe7dc"/>
<path d="M395.8,90.1 L406.8,87.3 L417.9,88.7 L428.9,86.0 L431.6,94.2 L420.6,97.0 L406.8,95.6 L397.2,94.2Z" fill="#d4e6f1"/>
<path d="M373.8,76.3 L384.8,73.6 L393.1,77.7 L395.8,84.6 L387.6,90.1 L379.3,90.1 L375.2,83.2Z" fill="#fdddcb"/>
<path d="M431.6,59.8 L446.2,59.8 L446.2,65.3 L434.4,65.3Z" fill="#fdddcb"/>
<path d="M303.6,84.6 L317.4,83.2 L338.0,84.6 L342.1,94.2 L331.1,95.6 L317.4,95.6 L305.0,91.5Z" fill="#d4e6f1"/>
<path d="M322.9,87.3 L335.2,87.3 L338.0,94.2 L328.4,95.6 L322.9,92.8Z" fill="#9dcbe1"/>
<path d="M295.2,95.6 L310.5,97.0 L324.2,99.7 L338.0,101.1 L342.1,105.2 L338.0,109.4 L324.2,110.7 L310.5,113.5 L295.2,116.3Z" fill="#fdddcb"/>
<path d="M295.2,98.4 L310.5,99.7 L324.2,101.8 L335.2,103.9 L331.1,107.3 L317.4,108.7 L303.6,111.4 L295.2,113.5Z" fill="#f6af8e"/>
<path d="M295.2,101.1 L307.7,101.8 L317.4,103.9 L324.2,105.2 L317.4,107.3 L307.7,109.4 L295.2,111.4Z" fill="#de735c"/>
<path d="M295.2,103.9 L305.0,103.9 L310.5,106.6 L305.0,110.1 L295.2,110.7Z" fill="#be3036"/>
<path d="M340.8,102.5 L347.6,102.5 L350.4,106.6 L346.3,107.3 L342.1,105.2Z" fill="#be3036"/>
<path d="M295.2,117.6 L310.5,114.9 L324.2,112.1 L338.0,108.0 L351.8,112.1 L365.5,117.6 L372.4,120.4 L365.5,123.1 L351.8,124.5 L338.0,125.9 L324.2,130.0 L310.5,131.4 L299.5,128.6Z" fill="#d4e6f1"/>
<path d="M310.5,120.4 L324.2,116.3 L338.0,112.1 L349.0,114.9 L354.5,119.0 L344.9,121.8 L331.1,123.1 L317.4,125.2 L311.8,123.8Z" fill="#9dcbe1"/>
<path d="M314.6,121.8 L327.0,118.3 L338.0,114.9 L347.6,116.9 L343.5,120.4 L331.1,121.8 L318.7,124.5Z" fill="#59a1ca"/>
<path d="M329.7,119.0 L338.0,116.3 L346.3,117.6 L340.8,120.4 L332.5,121.1Z" fill="#2c75b4"/>
<path d="M317.4,122.4 L324.2,121.1 L325.6,123.8 L318.7,124.5Z" fill="#2c75b4"/>
<path d="M354.5,81.8 L372.4,80.5 L386.2,81.8 L393.1,87.3 L386.2,95.6 L379.3,106.6 L372.4,108.0 L361.4,106.6 L355.9,98.4Z" fill="#fdddcb"/>
<path d="M361.4,103.9 L368.3,101.1 L371.0,105.2 L365.5,106.6Z" fill="#f6af8e"/>
<path d="M379.3,97.0 L393.1,95.6 L413.7,97.7 L427.5,97.0 L446.2,94.9 L446.2,103.9 L427.5,105.2 L413.7,103.9 L393.1,109.4 L382.1,108.0Z" fill="#fdddcb"/>
<path d="M386.2,99.7 L400.0,99.7 L411.0,102.5 L400.0,106.6 L387.6,106.6Z" fill="#f6af8e"/>
<path d="M427.5,98.4 L446.2,97.0 L446.2,102.5 L431.6,102.5Z" fill="#f6af8e"/>
<path d="M431.6,99.0 L446.2,98.4 L446.2,101.8 L434.4,101.8Z" fill="#de735c"/>
<path d="M413.7,106.6 L427.5,105.2 L446.2,104.5 L446.2,114.9 L427.5,114.2 L416.5,112.1Z" fill="#d4e6f1"/>
<path d="M417.9,108.0 L434.4,106.6 L446.2,106.3 L446.2,113.5 L431.6,112.8 L420.6,111.4Z" fill="#9dcbe1"/>
<path d="M420.6,108.7 L434.4,108.0 L442.6,109.4 L434.4,111.8 L423.4,111.0Z" fill="#59a1ca"/>
<path d="M406.8,112.1 L420.6,114.2 L446.2,114.2 L446.2,124.5 L434.4,124.5 L420.6,120.4 L409.6,117.6Z" fill="#fdddcb"/>
<path d="M413.7,114.9 L427.5,116.3 L446.2,116.3 L446.2,123.8 L431.6,123.1 L417.9,119.0Z" fill="#f6af8e"/>
<path d="M423.4,117.6 L434.4,117.6 L446.2,118.3 L446.2,123.1 L434.4,122.4 L427.5,121.1Z" fill="#de735c"/>
<path d="M427.5,118.3 L437.1,118.3 L441.3,121.1 L434.4,121.8 L428.9,120.7Z" fill="#be3036"/>
<path d="M404.1,124.5 L417.9,124.5 L434.4,127.3 L446.2,128.6 L446.2,147.9 L434.4,145.2 L420.6,136.9 L409.6,131.4Z" fill="#d4e6f1"/>
<path d="M124.7,99.8 L135.6,98.1 L146.4,99.8 L152.2,104.8 L158.1,111.5 L161.4,119.8 L158.1,126.5 L152.2,129.8 L143.9,129.8 L135.6,126.5 L127.2,122.3 L123.0,115.7 L123.0,107.3Z" fill="#fbe7dc"/>
<path d="M128.0,108.2 L135.6,107.3 L143.9,111.5 L149.7,116.5 L148.1,121.5 L139.7,122.3 L131.4,118.2 L127.2,114.0Z" fill="#f9cdb5"/>
<path d="M128.9,110.7 L134.7,110.7 L136.4,115.7 L131.4,117.3 L128.9,114.8Z" fill="#de735c"/>
<path d="M127.2,100.6 L131.4,100.2 L132.2,104.8 L128.0,105.6Z" fill="#be3036"/>
<path d="M151.4,132.4 L160.6,130.7 L168.1,134.0 L166.4,141.5 L161.4,146.5 L154.7,147.4 L152.2,141.5Z" fill="#fbe7dc"/>
<path d="M174.8,129.8 L179.8,132.4 L185.6,137.4 L179.8,137.8 L174.8,134.9Z" fill="#d4e6f1"/>
<path d="M123.0,109.0 L126.4,109.8 L127.2,116.5 L123.9,116.5Z" fill="#9dcbe1"/>
<path d="M5.9,66.1 L20.4,57.8 L36.9,54.7 L34.9,61.9 L24.5,69.8 L5.9,69.8Z" fill="#d4e6f1"/>
<path d="M165.2,46.4 L173.5,44.3 L179.7,49.5 L171.4,51.6Z" fill="#d4e6f1"/>
<path d="M198.3,22.6 L210.7,14.3 L224.2,12.2 L224.2,26.7 L206.6,26.7Z" fill="#d4e6f1"/>
<path d="M194.2,45.4 L206.6,39.1 L224.2,37.1 L224.2,69.8 L210.7,69.8 L198.3,61.9Z" fill="#d4e6f1"/>
<path d="M94.9,66.1 L103.1,63.0 L109.3,66.1 L105.2,69.8 L94.9,69.8Z" fill="#fdddcb"/>
<path d="M132.1,66.1 L140.4,61.9 L144.5,66.1 L140.4,69.8Z" fill="#fdddcb"/>
<path d="M220.2,12.2 L234.1,11.2 L244.5,16.4 L234.1,22.6 L220.2,26.7Z" fill="#d4e6f1"/>
<path d="M273.4,17.4 L283.8,16.4 L283.8,20.5 L275.5,20.5Z" fill="#d4e6f1"/>
<path d="M399.6,59.9 L407.9,59.4 L408.9,63.6 L400.0,64.0Z" fill="#fdddcb"/>
<path d="M432.7,60.3 L443.0,59.4 L444.1,63.6 L433.7,64.0Z" fill="#fdddcb"/>
<path d="M49.2,135.0 L65.7,139.2 L74.0,149.4 L61.6,151.5 L51.3,143.3Z" fill="#d4e6f1"/>
<path d="M239.1,159.7 L259.8,158.9 L259.8,163.9 L241.2,163.9Z" fill="#d4e6f1"/>
<path d="M301.0,126.8 L346.5,126.8 L342.3,131.7 L305.2,130.9Z" fill="#d4e6f1"/>
<use href="#coast"/>
</g>
<rect x="0" y="0" width="444.8" height="220.2" fill="none" stroke="#000" stroke-width="1.1"/>
<path d="M0.00,220.20 v4.86 M74.13,220.20 v4.86 M148.27,220.20 v4.86 M222.40,220.20 v4.86 M296.53,220.20 v4.86 M370.67,220.20 v4.86 M444.80,220.20 v4.86 M0,0.00 h-4.86 M0,35.88 h-4.86 M0,72.99 h-4.86 M0,110.10 h-4.86 M0,147.21 h-4.86 M0,184.32 h-4.86 M0,220.20 h-4.86" stroke="#000" stroke-width="1.1" fill="none"/>
<text x="-19.82" y="243.90" font-size="17.17" textLength="39.35" lengthAdjust="spacingAndGlyphs">180°</text>
<text x="45.58" y="243.90" font-size="17.17" textLength="55.76" lengthAdjust="spacingAndGlyphs">120°W</text>
<text x="125.17" y="243.90" font-size="17.17" textLength="45.32" lengthAdjust="spacingAndGlyphs">60°W</text>
<text x="213.52" y="243.90" font-size="17.17" textLength="18.15" lengthAdjust="spacingAndGlyphs">0°</text>
<text x="276.70" y="243.90" font-size="17.17" textLength="39.53" lengthAdjust="spacingAndGlyphs">60°E</text>
<text x="345.37" y="243.90" font-size="17.17" textLength="49.97" lengthAdjust="spacingAndGlyphs">120°E</text>
<text x="424.98" y="243.90" font-size="17.17" textLength="39.35" lengthAdjust="spacingAndGlyphs">180°</text>
<text x="-51.56" y="6.90" font-size="17.17" textLength="41.57" lengthAdjust="spacingAndGlyphs">89°N</text>
<text x="-51.66" y="42.78" font-size="17.17" textLength="41.68" lengthAdjust="spacingAndGlyphs">60°N</text>
<text x="-51.31" y="79.89" font-size="17.17" textLength="41.32" lengthAdjust="spacingAndGlyphs">30°N</text>
<text x="-28.51" y="117.00" font-size="17.17" textLength="18.15" lengthAdjust="spacingAndGlyphs">0°</text>
<text x="-50.13" y="154.11" font-size="17.17" textLength="39.45" lengthAdjust="spacingAndGlyphs">30°S</text>
<text x="-50.47" y="191.22" font-size="17.17" textLength="39.80" lengthAdjust="spacingAndGlyphs">60°S</text>
<text x="-50.37" y="227.10" font-size="17.17" textLength="39.70" lengthAdjust="spacingAndGlyphs">89°S</text>
<text x="202.03" y="-8.50" font-size="20.02" textLength="41.42" lengthAdjust="spacingAndGlyphs">SON</text>
<text x="150.50" y="266.20" font-size="18.60" textLength="143.57" lengthAdjust="spacingAndGlyphs">Longitude [deg]</text>
<g transform="translate(-61.5,110.10) rotate(-90)"><text x="-64.19" y="0.00" font-size="18.60" textLength="128.13" lengthAdjust="spacingAndGlyphs">Latitude [deg]</text></g>
</g>
<path d="M266.2,653.2 L235.2,661.55 L266.2,669.9 Z" fill="#053061"/>
<path d="M866.2,653.2 L897.2,661.55 L866.2,669.9 Z" fill="#67001f"/>
<rect x="266.20" y="653.2" width="54.85" height="16.70" fill="#114781"/>
<rect x="320.75" y="653.2" width="54.85" height="16.70" fill="#2c75b4"/>
<rect x="375.29" y="653.2" width="54.85" height="16.70" fill="#59a1ca"/>
<rect x="429.84" y="653.2" width="54.85" height="16.70" fill="#9dcbe1"/>
<rect x="484.38" y="653.2" width="54.85" height="16.70" fill="#d4e6f1"/>
<rect x="538.93" y="653.2" width="54.85" height="16.70" fill="#f7f6f6"/>
<rect x="593.47" y="653.2" width="54.85" height="16.70" fill="#fdddcb"/>
<rect x="648.02" y="653.2" width="54.85" height="16.70" fill="#f6af8e"/>
<rect x="702.56" y="653.2" width="54.85" height="16.70" fill="#de735c"/>
<rect x="757.11" y="653.2" width="54.85" height="16.70" fill="#be3036"/>
<rect x="811.65" y="653.2" width="54.85" height="16.70" fill="#870a24"/>
<path d="M266.2,653.2 L235.2,661.55 L266.2,669.9 L866.2,669.9 L897.2,661.55 L866.2,653.2 Z" fill="none" stroke="#000" stroke-width="1.1"/>
<text x="241.12" y="692.80" font-size="17.17" textLength="49.95" lengthAdjust="spacingAndGlyphs">−8.00</text>
<text x="295.85" y="692.80" font-size="17.17" textLength="49.65" lengthAdjust="spacingAndGlyphs">−6.55</text>
<text x="350.24" y="692.80" font-size="17.17" textLength="50.06" lengthAdjust="spacingAndGlyphs">−5.09</text>
<text x="404.66" y="692.80" font-size="17.17" textLength="49.96" lengthAdjust="spacingAndGlyphs">−3.64</text>
<text x="459.32" y="692.80" font-size="17.17" textLength="50.02" lengthAdjust="spacingAndGlyphs">−2.18</text>
<text x="513.96" y="692.80" font-size="17.17" textLength="49.83" lengthAdjust="spacingAndGlyphs">−0.73</text>
<text x="575.39" y="692.80" font-size="17.17" textLength="36.24" lengthAdjust="spacingAndGlyphs">0.73</text>
<text x="629.70" y="692.80" font-size="17.17" textLength="36.51" lengthAdjust="spacingAndGlyphs">2.18</text>
<text x="684.40" y="692.80" font-size="17.17" textLength="36.17" lengthAdjust="spacingAndGlyphs">3.64</text>
<text x="739.03" y="692.80" font-size="17.17" textLength="36.28" lengthAdjust="spacingAndGlyphs">5.09</text>
<text x="793.47" y="692.80" font-size="17.17" textLength="36.21" lengthAdjust="spacingAndGlyphs">6.55</text>
<text x="847.95" y="692.80" font-size="17.17" textLength="36.41" lengthAdjust="spacingAndGlyphs">8.00</text>
<path d="M266.20,669.9 v4.86 M320.75,669.9 v4.86 M375.29,669.9 v4.86 M429.84,669.9 v4.86 M484.38,669.9 v4.86 M538.93,669.9 v4.86 M593.47,669.9 v4.86 M648.02,669.9 v4.86 M702.56,669.9 v4.86 M757.11,669.9 v4.86 M811.65,669.9 v4.86 M866.20,669.9 v4.86" stroke="#000" stroke-width="1.1"/>
<text x="417.26" y="713.60" font-size="18.60" textLength="298.92" lengthAdjust="spacingAndGlyphs">Total precipitation rate [mm/day]</text>
</svg></body></html>
